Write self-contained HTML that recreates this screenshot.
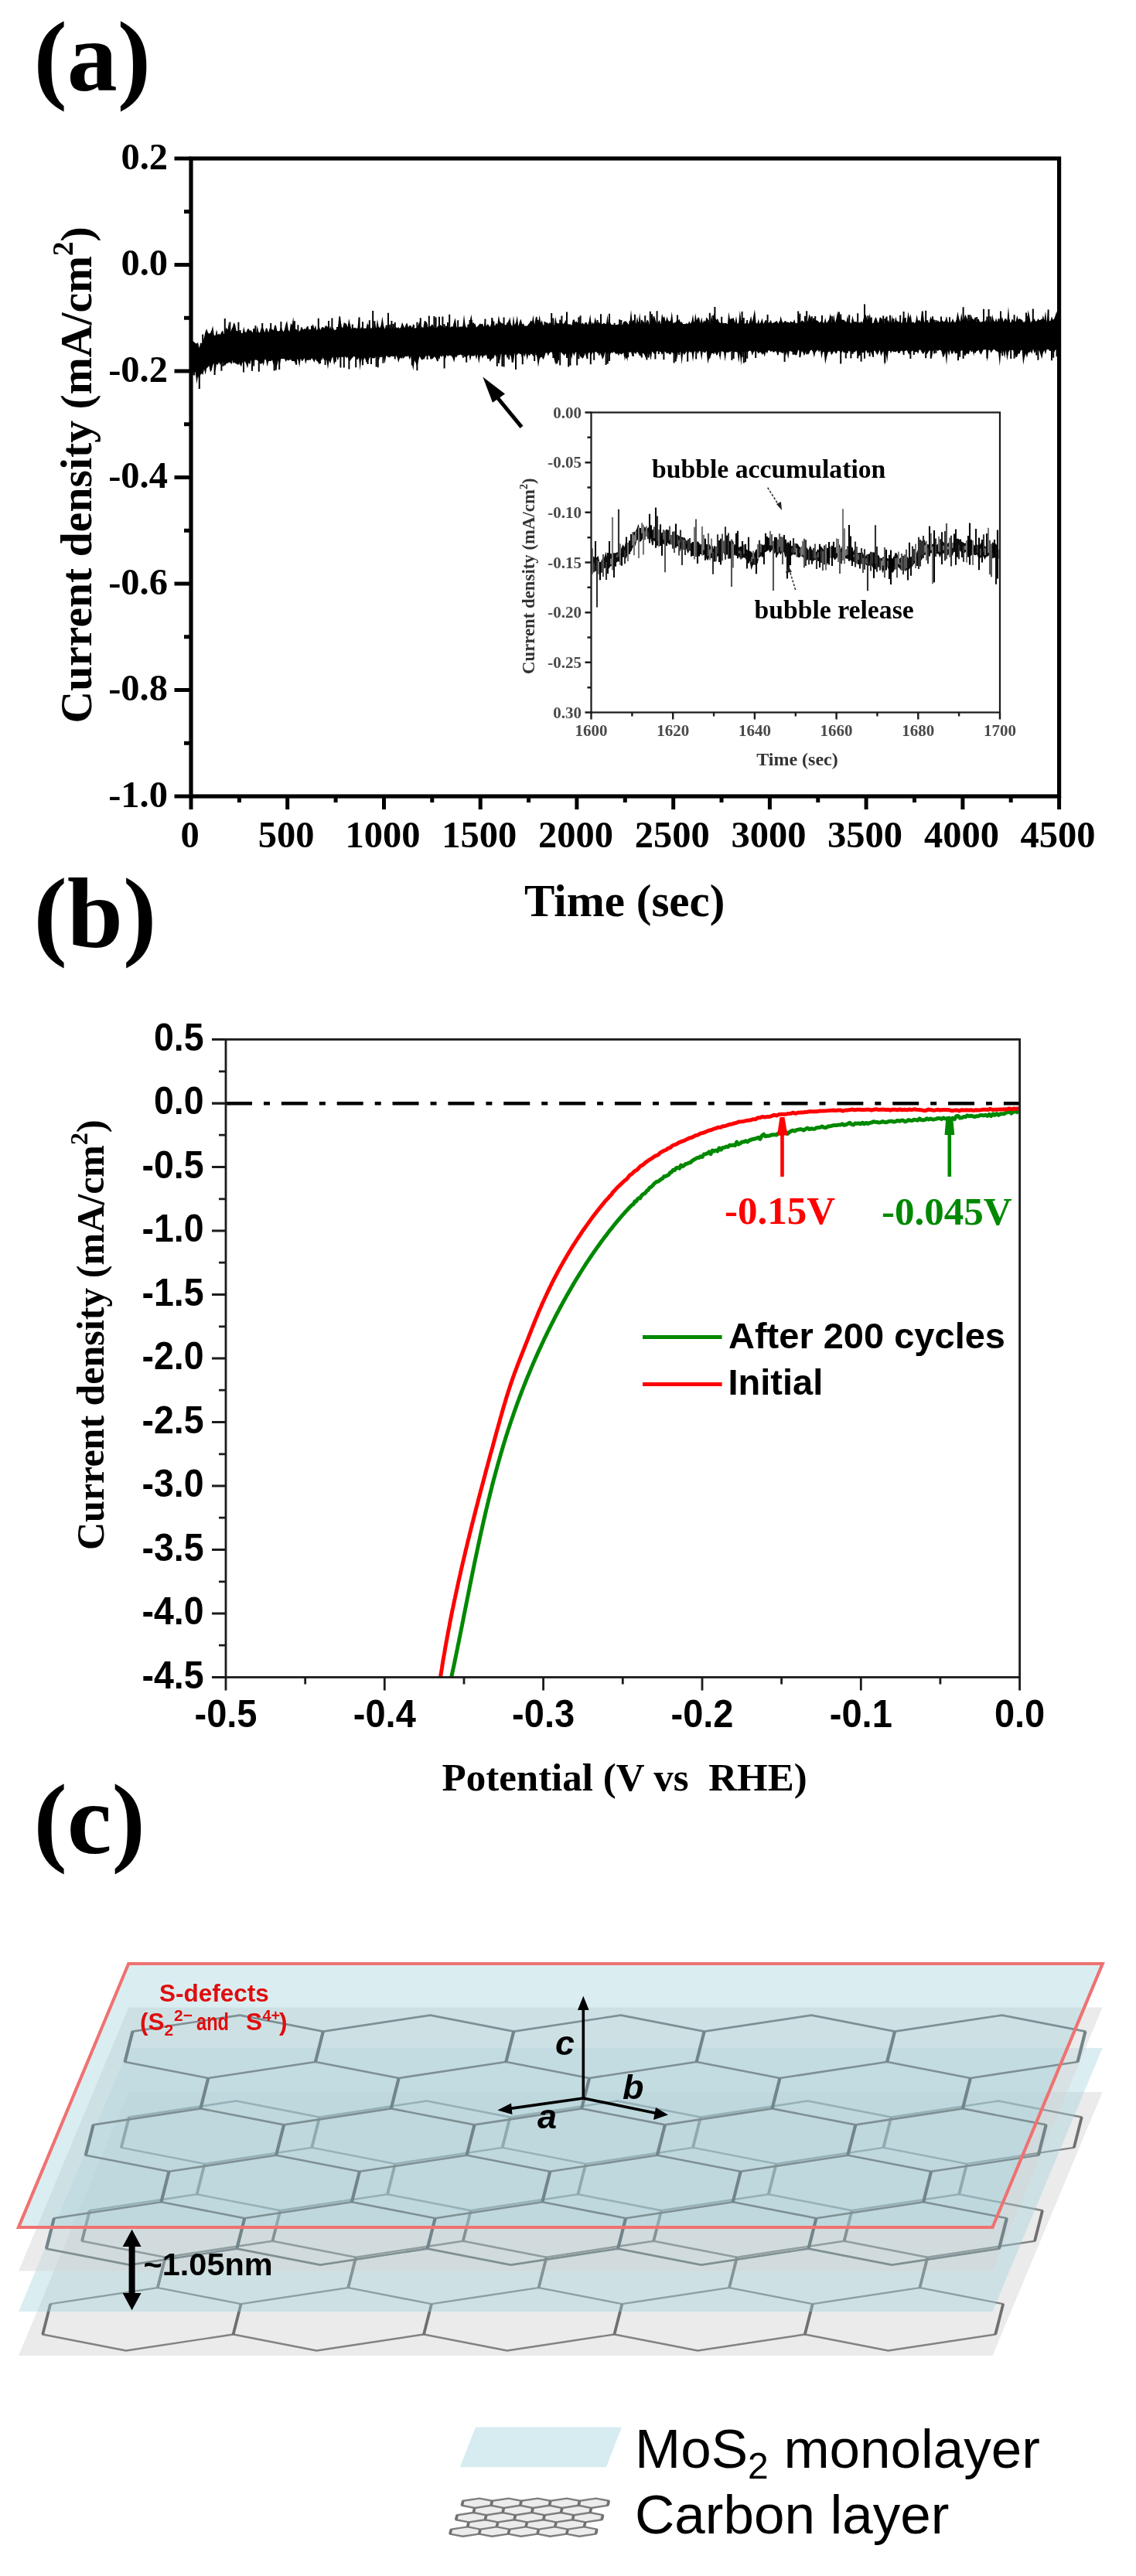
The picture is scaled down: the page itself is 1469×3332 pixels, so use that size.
<!DOCTYPE html>
<html><head><meta charset="utf-8"><title>Figure</title>
<style>html,body{margin:0;padding:0;background:#fff;} svg{display:block;}</style>
</head><body>
<svg width="1469" height="3332" viewBox="0 0 1469 3332"><defs><filter id="soft" filterUnits="userSpaceOnUse" x="0" y="0" width="1469" height="3332"><feGaussianBlur stdDeviation="0.75"/></filter></defs><rect width="1469" height="3332" fill="#fff"/><g filter="url(#soft)"><text x="43.5" y="117" font-family="'Liberation Serif', serif" font-weight="bold" font-size="130">(a)</text>
<path d="M248,439.2 249.6,441.2 251.2,442.5 252.8,444 254.4,444.6 256,442.7 257.6,450.2 259.2,443.2 260.8,444.3 262.4,442 264,436.6 265.6,429 267.2,425.2 268.8,430.1 270.4,431.8 272,430.7 273.6,427.2 275.2,421.6 276.8,433.5 278.4,434.3 280,426.2 281.6,433.2 283.2,431.6 284.8,433.1 286.4,429.3 288,427.4 289.6,432.5 291.2,427.9 292.8,423.6 294.4,426.7 296,416.6 297.6,430.4 299.2,426.5 300.8,422.9 302.4,417.3 304,419.5 305.6,427.8 307.2,428.3 308.8,430.3 310.4,427.3 312,430.9 313.6,430.9 315.2,422.5 316.8,429.5 318.4,429.7 320,425.5 321.6,425.3 323.2,428.1 324.8,427.1 326.4,430.6 328,425 329.6,425.1 331.2,430.4 332.8,421.6 334.4,429.5 336,430.4 337.6,424.7 339.2,423.1 340.8,425.6 342.4,430.3 344,424 345.6,425.3 347.2,430.2 348.8,424 350.4,426.5 352,425.4 353.6,427.5 355.2,421.1 356.8,420.4 358.4,428.1 360,428.6 361.6,427.9 363.2,422.1 364.8,426 366.4,429.4 368,425.9 369.6,418.8 371.2,415.1 372.8,426.5 374.4,429.1 376,417.8 377.6,420.7 379.2,409.7 380.8,426.3 382.4,425.6 384,426.4 385.6,428.7 387.2,428.4 388.8,426.3 390.4,422.9 392,426.6 393.6,424.9 395.2,425.8 396.8,422.5 398.4,421.8 400,427.7 401.6,425.9 403.2,423.3 404.8,419 406.4,425.4 408,420.4 409.6,427.4 411.2,424.4 412.8,422.5 414.4,427.1 416,423.2 417.6,423 419.2,425.2 420.8,421.2 422.4,421.5 424,423.2 425.6,427.3 427.2,421.4 428.8,426.9 430.4,423.3 432,426.6 433.6,426.9 435.2,425.6 436.8,424.9 438.4,409.6 440,409 441.6,422.5 443.2,424.2 444.8,416.9 446.4,418.3 448,418.8 449.6,423.3 451.2,411.9 452.8,419.8 454.4,425.5 456,423.2 457.6,424.6 459.2,423.6 460.8,424.9 462.4,424.2 464,408.9 465.6,426.2 467.2,423.1 468.8,425.5 470.4,424.6 472,424.8 473.6,424.6 475.2,417.1 476.8,425.9 478.4,422.6 480,425.3 481.6,422.8 483.2,425.4 484.8,416.7 486.4,425 488,412.8 489.6,422.4 491.2,424.2 492.8,420 494.4,409.2 496,420.8 497.6,425.8 499.2,420.6 500.8,425.4 502.4,420.2 504,425.5 505.6,425.5 507.2,423 508.8,425.6 510.4,424.6 512,423 513.6,424.4 515.2,422.9 516.8,424.9 518.4,423.2 520,416.8 521.6,420.7 523.2,424.3 524.8,419.7 526.4,417.5 528,423.5 529.6,420.8 531.2,421.1 532.8,424.1 534.4,418.4 536,425.1 537.6,423.9 539.2,424.6 540.8,420.4 542.4,415.4 544,425.2 545.6,422.3 547.2,424.4 548.8,414.7 550.4,415.6 552,416.9 553.6,423.6 555.2,422.3 556.8,422 558.4,419.5 560,420.5 561.6,424.9 563.2,423.1 564.8,424.1 566.4,421.3 568,423.9 569.6,419.7 571.2,422 572.8,423.1 574.4,424.1 576,424.7 577.6,421.2 579.2,423.7 580.8,423.1 582.4,423.6 584,422 585.6,422.7 587.2,415.8 588.8,411.3 590.4,422.9 592,424.2 593.6,423.1 595.2,422.3 596.8,422.8 598.4,421.9 600,406.7 601.6,419.9 603.2,423.8 604.8,423.1 606.4,420.4 608,413.3 609.6,406.8 611.2,421.8 612.8,418.9 614.4,418.6 616,423.4 617.6,422.1 619.2,420.3 620.8,418.2 622.4,419.4 624,418.6 625.6,422.7 627.2,415.1 628.8,422.3 630.4,419 632,420.6 633.6,423.1 635.2,418.5 636.8,410.7 638.4,418.2 640,421.9 641.6,417.6 643.2,419.9 644.8,408 646.4,415.7 648,417.5 649.6,418.6 651.2,418.1 652.8,420 654.4,420.6 656,416.6 657.6,418.1 659.2,409.7 660.8,419.3 662.4,422.3 664,408.3 665.6,420.5 667.2,416.8 668.8,408.3 670.4,422.3 672,415.9 673.6,412.6 675.2,419.6 676.8,418.2 678.4,421.6 680,421.6 681.6,421.7 683.2,419.4 684.8,417.8 686.4,414.4 688,415.9 689.6,407.4 691.2,419.9 692.8,410.2 694.4,409.6 696,418.6 697.6,407.3 699.2,417.3 700.8,414.3 702.4,420.5 704,420.2 705.6,416.8 707.2,417.4 708.8,417.8 710.4,420.3 712,418.7 713.6,416.7 715.2,419.5 716.8,420.7 718.4,409.5 720,419 721.6,418 723.2,418.6 724.8,417.3 726.4,416.5 728,419 729.6,418 731.2,414.8 732.8,413.1 734.4,419.2 736,419.5 737.6,419.2 739.2,420.9 740.8,414 742.4,413.1 744,417.1 745.6,415.4 747.2,417.8 748.8,416.3 750.4,420.1 752,418.6 753.6,417.6 755.2,419.7 756.8,417 758.4,416.7 760,420.2 761.6,416 763.2,406.6 764.8,419.9 766.4,416.8 768,419.2 769.6,410.3 771.2,416.6 772.8,418.9 774.4,416.2 776,418.6 777.6,418.6 779.2,419.2 780.8,417.6 782.4,418.7 784,418.8 785.6,407.1 787.2,420.5 788.8,416.8 790.4,419.8 792,420.1 793.6,420 795.2,420.5 796.8,419.9 798.4,419.9 800,419.3 801.6,419.1 803.2,420.2 804.8,420.2 806.4,416.2 808,415.4 809.6,415.4 811.2,417.4 812.8,419.7 814.4,417.1 816,400.7 817.6,416.1 819.2,413.5 820.8,415.8 822.4,418.4 824,409.4 825.6,418.5 827.2,404.4 828.8,419 830.4,415.4 832,415.5 833.6,418.4 835.2,417.9 836.8,413.4 838.4,415.1 840,419.9 841.6,414.9 843.2,418.1 844.8,408.4 846.4,409.6 848,415.4 849.6,419.6 851.2,418.3 852.8,413.6 854.4,419.5 856,405.7 857.6,410.9 859.2,409.3 860.8,416.9 862.4,409.3 864,414.3 865.6,416.1 867.2,414.6 868.8,403.1 870.4,418.2 872,417.2 873.6,416.9 875.2,414.1 876.8,415.1 878.4,412.5 880,416.9 881.6,416.3 883.2,419 884.8,419.2 886.4,418.9 888,418.1 889.6,419.2 891.2,415.2 892.8,418.8 894.4,416 896,406.5 897.6,419.1 899.2,405 900.8,414.5 902.4,411 904,410.6 905.6,418.5 907.2,410.2 908.8,418 910.4,414.3 912,416.2 913.6,410.2 915.2,412.5 916.8,418.1 918.4,419.2 920,406.6 921.6,416.3 923.2,404.6 924.8,410.6 926.4,413.9 928,411.9 929.6,416 931.2,417.9 932.8,417.3 934.4,417.5 936,418.2 937.6,417.8 939.2,418.1 940.8,419.3 942.4,403.4 944,413.3 945.6,412.1 947.2,411.8 948.8,411.2 950.4,417.7 952,408.7 953.6,418.9 955.2,417.3 956.8,401.8 958.4,414.9 960,411.2 961.6,417.4 963.2,418.9 964.8,417.2 966.4,416.9 968,419.2 969.6,414.4 971.2,408.8 972.8,416.8 974.4,408.3 976,400.3 977.6,417.2 979.2,418.8 980.8,412.5 982.4,419.1 984,415.9 985.6,411.5 987.2,418.9 988.8,416.1 990.4,414.5 992,419 993.6,417.6 995.2,416.9 996.8,413.8 998.4,418.2 1000,417.6 1001.6,416.8 1003.2,415.8 1004.8,415.1 1006.4,418.5 1008,417.4 1009.6,408.8 1011.2,414.9 1012.8,417.8 1014.4,415.5 1016,415 1017.6,417 1019.2,416.3 1020.8,418.1 1022.4,415.2 1024,416.7 1025.6,416.8 1027.2,413.1 1028.8,418.4 1030.4,417.5 1032,418.6 1033.6,408.6 1035.2,417.1 1036.8,414.6 1038.4,414.9 1040,417 1041.6,417.4 1043.2,417.3 1044.8,414.5 1046.4,406.4 1048,409.8 1049.6,413.9 1051.2,415.9 1052.8,413 1054.4,414.6 1056,414.2 1057.6,415 1059.2,417 1060.8,416.8 1062.4,413.5 1064,416.8 1065.6,417.7 1067.2,411 1068.8,417.9 1070.4,415.7 1072,413.6 1073.6,405.2 1075.2,416.9 1076.8,416.3 1078.4,406.4 1080,417.8 1081.6,411.6 1083.2,401.9 1084.8,414.4 1086.4,409.7 1088,412.6 1089.6,414 1091.2,413.6 1092.8,415.3 1094.4,416.8 1096,407.9 1097.6,417.3 1099.2,416.7 1100.8,418.4 1102.4,408.3 1104,415.5 1105.6,416.5 1107.2,415.8 1108.8,417.8 1110.4,417.9 1112,418.3 1113.6,415 1115.2,417.9 1116.8,411.2 1118.4,406.2 1120,407.9 1121.6,413.9 1123.2,412.6 1124.8,405.4 1126.4,415.9 1128,418.3 1129.6,417.5 1131.2,412.5 1132.8,409.9 1134.4,415.1 1136,418.2 1137.6,410.7 1139.2,410.7 1140.8,412.9 1142.4,418.3 1144,418.2 1145.6,410.1 1147.2,415.6 1148.8,413.9 1150.4,418.2 1152,417.9 1153.6,407.7 1155.2,417.2 1156.8,416.8 1158.4,409.4 1160,416.5 1161.6,416.2 1163.2,415.5 1164.8,417.2 1166.4,417.8 1168,409.6 1169.6,412.5 1171.2,418.1 1172.8,416.4 1174.4,403.1 1176,411.6 1177.6,406.3 1179.2,417.4 1180.8,415.9 1182.4,417.9 1184,416.4 1185.6,407 1187.2,415.4 1188.8,413.4 1190.4,416.6 1192,403.7 1193.6,403.3 1195.2,417.1 1196.8,413.9 1198.4,414.2 1200,416.8 1201.6,417.4 1203.2,409.4 1204.8,412.6 1206.4,415.4 1208,412.2 1209.6,417.2 1211.2,416.3 1212.8,414.3 1214.4,416.3 1216,416 1217.6,413.8 1219.2,415.2 1220.8,416.5 1222.4,414.6 1224,408.7 1225.6,415.9 1227.2,417.5 1228.8,417.3 1230.4,415.9 1232,411.9 1233.6,416.1 1235.2,417.3 1236.8,413.2 1238.4,403 1240,410.9 1241.6,416.2 1243.2,405.1 1244.8,414.6 1246.4,412.7 1248,406.8 1249.6,409.6 1251.2,415.2 1252.8,413.5 1254.4,416.5 1256,407.8 1257.6,412.5 1259.2,412.4 1260.8,416.4 1262.4,417.2 1264,413.2 1265.6,412.6 1267.2,416.7 1268.8,416.2 1270.4,416.2 1272,411.9 1273.6,416.4 1275.2,413 1276.8,417.2 1278.4,413.4 1280,416.8 1281.6,416.8 1283.2,407.1 1284.8,413.8 1286.4,416.5 1288,411.3 1289.6,416.7 1291.2,411.1 1292.8,416.4 1294.4,414.9 1296,409.5 1297.6,416.6 1299.2,412.4 1300.8,412 1302.4,414.9 1304,396.4 1305.6,416.5 1307.2,417.2 1308.8,412.2 1310.4,414.5 1312,415.7 1313.6,415.8 1315.2,407.9 1316.8,413.4 1318.4,412.1 1320,412.9 1321.6,413.7 1323.2,416.6 1324.8,416.7 1326.4,413.2 1328,415.7 1329.6,401.1 1331.2,408.8 1332.8,417.2 1334.4,415.3 1336,414.4 1337.6,411.9 1339.2,415.7 1340.8,415.3 1342.4,412.1 1344,414.3 1345.6,413.8 1347.2,415.2 1348.8,407.6 1350.4,414 1352,402.5 1353.6,416.7 1355.2,401.5 1356.8,415.6 1358.4,414.8 1360,409.2 1361.6,413.8 1363.2,412.2 1364.8,407.8 1366.4,402.6 1368,412.2 1368,452.4 1366.4,452.3 1364.8,452.5 1363.2,455.4 1361.6,452.9 1360,455.8 1358.4,452.2 1356.8,452.5 1355.2,451.9 1353.6,452.1 1352,458.6 1350.4,453.1 1348.8,456.4 1347.2,464.5 1345.6,458.4 1344,453.7 1342.4,452.7 1340.8,452.7 1339.2,454.1 1337.6,457.3 1336,451.3 1334.4,457.7 1332.8,454.3 1331.2,455.9 1329.6,455.9 1328,462.8 1326.4,457.2 1324.8,462.6 1323.2,472.1 1321.6,452.7 1320,453 1318.4,458 1316.8,457 1315.2,461.5 1313.6,462.2 1312,457.9 1310.4,453.5 1308.8,452.6 1307.2,453.1 1305.6,452.9 1304,456 1302.4,466.4 1300.8,453 1299.2,462.9 1297.6,454.9 1296,453.3 1294.4,454 1292.8,473.8 1291.2,456.3 1289.6,454.2 1288,454.5 1286.4,452.6 1284.8,451.8 1283.2,454 1281.6,456.5 1280,452.8 1278.4,452.8 1276.8,467.9 1275.2,451.9 1273.6,452.4 1272,451.9 1270.4,454.7 1268.8,458.6 1267.2,457.2 1265.6,452.7 1264,453.7 1262.4,454.8 1260.8,451.7 1259.2,460.4 1257.6,452.7 1256,455 1254.4,452.7 1252.8,458.2 1251.2,457.2 1249.6,457.6 1248,460.8 1246.4,458.2 1244.8,452.8 1243.2,452.3 1241.6,455.8 1240,457.7 1238.4,453.2 1236.8,456.5 1235.2,457.8 1233.6,453.6 1232,457.4 1230.4,457.8 1228.8,452.3 1227.2,460.4 1225.6,453.4 1224,472.2 1222.4,455.7 1220.8,461.1 1219.2,462 1217.6,454.7 1216,452.5 1214.4,453.1 1212.8,453.9 1211.2,452.5 1209.6,452.6 1208,452.7 1206.4,454.1 1204.8,464.1 1203.2,453.6 1201.6,453.6 1200,456.2 1198.4,458.5 1196.8,452.4 1195.2,456.1 1193.6,458 1192,455.7 1190.4,452.8 1188.8,452.2 1187.2,457.7 1185.6,454.7 1184,455.5 1182.4,455.6 1180.8,453.2 1179.2,454.6 1177.6,454.3 1176,458.9 1174.4,456.8 1172.8,452.9 1171.2,453.8 1169.6,454 1168,456.3 1166.4,453.5 1164.8,453.9 1163.2,456.9 1161.6,456.8 1160,453.7 1158.4,455.4 1156.8,454.8 1155.2,455.5 1153.6,453.1 1152,457.3 1150.4,453.4 1148.8,454.3 1147.2,468.2 1145.6,456.5 1144,473.3 1142.4,454 1140.8,456.9 1139.2,460.8 1137.6,452.4 1136,456.6 1134.4,459.2 1132.8,456 1131.2,453.5 1129.6,454.2 1128,460.1 1126.4,455.7 1124.8,454.8 1123.2,456.1 1121.6,456.9 1120,452.4 1118.4,457.7 1116.8,456.1 1115.2,456.3 1113.6,455.8 1112,457.9 1110.4,461 1108.8,456.8 1107.2,453.2 1105.6,455.6 1104,455.6 1102.4,457.7 1100.8,453.6 1099.2,454.9 1097.6,453.4 1096,457.5 1094.4,455.9 1092.8,455.8 1091.2,456.6 1089.6,453.7 1088,456.9 1086.4,455.1 1084.8,453.7 1083.2,453.8 1081.6,457.7 1080,456.3 1078.4,454 1076.8,456.9 1075.2,459.2 1073.6,455.3 1072,452.7 1070.4,457.1 1068.8,463 1067.2,470.9 1065.6,455 1064,455.4 1062.4,463.7 1060.8,452.8 1059.2,455.8 1057.6,452.8 1056,453.7 1054.4,455.7 1052.8,462.4 1051.2,455.2 1049.6,452.8 1048,452.9 1046.4,456.7 1044.8,459.1 1043.2,453.6 1041.6,455.9 1040,460.4 1038.4,456 1036.8,454.1 1035.2,460.8 1033.6,453 1032,453.1 1030.4,459 1028.8,459.4 1027.2,458.1 1025.6,455.9 1024,454.7 1022.4,454.4 1020.8,454.1 1019.2,464.5 1017.6,455.2 1016,460.8 1014.4,453.6 1012.8,457.2 1011.2,456.3 1009.6,455.9 1008,454.5 1006.4,457.4 1004.8,456.7 1003.2,454 1001.6,455.1 1000,455.9 998.4,453.7 996.8,455.2 995.2,453.3 993.6,453.3 992,457.2 990.4,454.7 988.8,461.4 987.2,456.7 985.6,458.9 984,455.8 982.4,455.5 980.8,457.5 979.2,455.1 977.6,453.7 976,454.1 974.4,455.7 972.8,460 971.2,454.5 969.6,453.4 968,454.6 966.4,455.9 964.8,453.4 963.2,453.5 961.6,456.6 960,454.5 958.4,473.1 956.8,456.8 955.2,469.5 953.6,456 952,454.9 950.4,455.3 948.8,456.8 947.2,453.4 945.6,454.1 944,455.6 942.4,453.5 940.8,456.1 939.2,455.8 937.6,467.5 936,455.5 934.4,454.7 932.8,454.2 931.2,466.2 929.6,454.5 928,458.7 926.4,459.7 924.8,455.6 923.2,458.2 921.6,456.7 920,457.2 918.4,463 916.8,464.6 915.2,470.4 913.6,453.7 912,456.3 910.4,455.9 908.8,454.8 907.2,466.1 905.6,454.3 904,454.3 902.4,458 900.8,454.1 899.2,453.8 897.6,455.9 896,467.8 894.4,455.3 892.8,456.1 891.2,454.3 889.6,459 888,454.2 886.4,456.7 884.8,459.2 883.2,456.3 881.6,471.4 880,455.2 878.4,455.8 876.8,456.3 875.2,464.9 873.6,456.4 872,458.6 870.4,457 868.8,455.2 867.2,458.5 865.6,458.3 864,456.2 862.4,457.5 860.8,455.6 859.2,454.5 857.6,456.2 856,459.1 854.4,455.2 852.8,454.7 851.2,454.4 849.6,454 848,457.5 846.4,458.3 844.8,456.2 843.2,454.6 841.6,466.2 840,457.5 838.4,459.6 836.8,455.7 835.2,463.8 833.6,459.2 832,457.1 830.4,456.8 828.8,460.5 827.2,459.5 825.6,457.3 824,454.7 822.4,457.9 820.8,456.7 819.2,455.4 817.6,461.1 816,455.2 814.4,455.9 812.8,455.1 811.2,467.7 809.6,455.4 808,466.9 806.4,456 804.8,457.4 803.2,458.8 801.6,456.7 800,460.3 798.4,456.9 796.8,458.2 795.2,456.4 793.6,454.6 792,456.7 790.4,455.7 788.8,459.1 787.2,458 785.6,455.8 784,457.2 782.4,455.3 780.8,461.4 779.2,464.9 777.6,460 776,456.5 774.4,456.6 772.8,457.3 771.2,455.1 769.6,455.2 768,458.5 766.4,455.4 764.8,459.5 763.2,456.6 761.6,456.1 760,458.8 758.4,463.1 756.8,457 755.2,461.1 753.6,464.1 752,462.4 750.4,461.3 748.8,457.2 747.2,457.5 745.6,455.1 744,455.9 742.4,460.5 740.8,455.8 739.2,464.8 737.6,458.1 736,457.6 734.4,461.1 732.8,457.1 731.2,457.8 729.6,460.1 728,458.2 726.4,456.4 724.8,455.3 723.2,455.7 721.6,470.5 720,461.9 718.4,471.7 716.8,464.9 715.2,459.6 713.6,455.5 712,455.4 710.4,456.7 708.8,460.5 707.2,456.2 705.6,456.5 704,461.7 702.4,465.4 700.8,457.9 699.2,461.5 697.6,464.8 696,475 694.4,461.8 692.8,456.5 691.2,456.1 689.6,461.2 688,458.3 686.4,457.4 684.8,460.5 683.2,458.4 681.6,465.7 680,456.6 678.4,461.9 676.8,457.6 675.2,463.5 673.6,458.1 672,457.8 670.4,456.8 668.8,459.6 667.2,456.7 665.6,457.3 664,467.7 662.4,469 660.8,461.3 659.2,458.5 657.6,460 656,463.9 654.4,458.3 652.8,459.2 651.2,462.7 649.6,459 648,457.3 646.4,465.9 644.8,463.1 643.2,459 641.6,461.7 640,458.6 638.4,463.6 636.8,463.5 635.2,465.4 633.6,468 632,461.2 630.4,464.7 628.8,458.3 627.2,460.1 625.6,460.1 624,463.7 622.4,459.4 620.8,461.1 619.2,470.6 617.6,458.3 616,465 614.4,458.9 612.8,460.8 611.2,460.6 609.6,460 608,466.7 606.4,458.7 604.8,460.6 603.2,461.2 601.6,461.6 600,459.2 598.4,459.1 596.8,459.4 595.2,458.6 593.6,459.5 592,459.2 590.4,462.3 588.8,461.3 587.2,468.8 585.6,463.5 584,460.5 582.4,460.1 580.8,459.5 579.2,461.3 577.6,459.1 576,464.2 574.4,462.6 572.8,459.5 571.2,462.1 569.6,459.8 568,465.4 566.4,461.7 564.8,466.2 563.2,462.6 561.6,461.3 560,463.7 558.4,464.3 556.8,465 555.2,460.1 553.6,460 552,460.2 550.4,460.6 548.8,464.5 547.2,464.6 545.6,465.8 544,463.5 542.4,460.8 540.8,468.5 539.2,474.3 537.6,469.3 536,466 534.4,478.9 532.8,471.1 531.2,460.8 529.6,465.3 528,460 526.4,461.6 524.8,460.7 523.2,461.8 521.6,463.9 520,460.6 518.4,462.8 516.8,463.7 515.2,469.1 513.6,462.3 512,459.8 510.4,462.1 508.8,460.8 507.2,461.2 505.6,460.5 504,462.8 502.4,461.3 500.8,460.2 499.2,460.7 497.6,470.3 496,462.7 494.4,461.3 492.8,462.2 491.2,461.4 489.6,467 488,460.9 486.4,460.2 484.8,463.3 483.2,463.2 481.6,463.4 480,461.3 478.4,462.3 476.8,465.3 475.2,468.6 473.6,468.7 472,462.5 470.4,465.1 468.8,471.2 467.2,463.5 465.6,479.3 464,462.3 462.4,465.6 460.8,464 459.2,461.6 457.6,461 456,462.4 454.4,464.2 452.8,466.7 451.2,467.5 449.6,461.5 448,463.3 446.4,461.1 444.8,462.2 443.2,461.7 441.6,461.7 440,462.2 438.4,461.9 436.8,466.6 435.2,461.2 433.6,467.7 432,472.1 430.4,461.4 428.8,464 427.2,470.6 425.6,466.1 424,477.7 422.4,466.2 420.8,464.3 419.2,466.3 417.6,462.4 416,466.4 414.4,462.7 412.8,472.1 411.2,467.2 409.6,467.3 408,464.2 406.4,468.8 404.8,465.7 403.2,463.1 401.6,465.9 400,465.3 398.4,466.3 396.8,465.3 395.2,470.9 393.6,463 392,466.1 390.4,467.3 388.8,463.6 387.2,474.8 385.6,466.2 384,463.8 382.4,472.1 380.8,467.3 379.2,467.1 377.6,467.3 376,464.9 374.4,465.5 372.8,466.4 371.2,465.3 369.6,468 368,463.9 366.4,464.3 364.8,464 363.2,464.2 361.6,473.4 360,465.7 358.4,472.2 356.8,477.6 355.2,467.5 353.6,471.8 352,465.5 350.4,467.2 348.8,466.8 347.2,467.5 345.6,474.5 344,465.5 342.4,464.8 340.8,473 339.2,468.9 337.6,471.1 336,470 334.4,467.2 332.8,466.3 331.2,465.4 329.6,465.6 328,469.1 326.4,467.4 324.8,465.8 323.2,471.5 321.6,469 320,476.6 318.4,470.7 316.8,467.5 315.2,468.5 313.6,468.5 312,474.6 310.4,471.4 308.8,468.2 307.2,471.7 305.6,470.5 304,469.8 302.4,468 300.8,466.1 299.2,471.5 297.6,468.7 296,468.7 294.4,469.7 292.8,470.2 291.2,472 289.6,468.3 288,469.1 286.4,467.6 284.8,472.2 283.2,468.4 281.6,472 280,470.7 278.4,480.8 276.8,469.4 275.2,472.6 273.6,478.9 272,481.6 270.4,473.1 268.8,475 267.2,476.4 265.6,484.7 264,477.2 262.4,485 260.8,482.9 259.2,485 257.6,491.3 256,486.5 254.4,496.7 252.8,482.1 251.2,478.8 249.6,485.5 248,485.6Z" fill="#000"/>
<path d="M249.0,470.4V479.4M251.2,473.0V485.6M257.8,481.7V503.1M262.2,449.6V432.4M268.8,466.4V472.5M277.6,463.4V485.1M284.2,462.7V469.1M286.4,462.5V479.8M288.6,462.2V473.8M290.8,438.0V412.0M290.8,462.0V472.4M297.4,437.3V416.6M301.8,436.9V428.5M301.8,460.9V469.4M308.4,436.7V416.7M308.4,460.7V471.6M310.6,436.6V426.9M315.0,460.4V481.4M326.0,460.0V479.8M328.2,436.0V424.9M328.2,460.0V473.4M330.4,435.9V421.3M334.8,459.7V480.7M339.2,435.6V418.0M350.2,435.2V417.9M354.6,459.0V479.6M356.8,458.9V478.8M361.2,458.8V478.1M363.4,434.7V415.9M370.0,458.4V464.8M381.0,434.0V415.2M383.2,457.9V471.8M385.4,433.9V420.3M389.8,433.7V423.5M400.8,433.3V426.0M403.0,433.2V421.6M411.8,432.9V411.7M411.8,456.9V468.7M414.0,456.8V470.3M418.4,432.7V423.7M420.6,456.6V472.1M425.0,432.4V414.9M427.2,432.3V424.9M429.4,432.3V411.5M433.8,456.1V467.9M436.0,432.0V423.0M440.4,431.9V419.4M440.4,455.9V475.4M444.8,455.7V475.6M451.4,431.5V418.7M451.4,455.5V477.5M453.6,455.5V463.6M455.8,431.4V419.4M460.2,455.4V475.2M464.6,431.3V410.6M469.0,431.2V416.3M469.0,455.2V472.3M473.4,455.2V464.6M475.6,431.2V420.1M475.6,455.2V471.0M477.8,431.1V414.2M480.0,455.1V471.1M482.2,431.1V402.0M484.4,431.0V415.3M486.6,455.0V474.6M488.8,455.0V475.3M495.4,454.9V469.8M499.8,430.8V420.6M502.0,430.8V404.7M502.0,454.8V461.9M504.2,430.8V419.8M506.4,430.7V414.9M508.6,430.7V418.9M510.8,430.7V417.0M510.8,454.7V464.6M519.6,454.6V463.6M524.0,430.5V424.5M532.8,454.4V472.5M535.0,430.4V420.2M535.0,454.4V465.9M539.4,430.3V416.8M539.4,454.3V479.2M543.8,430.2V411.3M552.6,454.1V465.0M554.8,430.1V408.4M557.0,454.1V460.4M561.4,430.0V409.0M563.6,430.0V410.4M565.8,454.0V467.3M568.0,429.9V409.7M572.4,429.9V409.6M574.6,429.8V419.3M574.6,453.8V476.6M576.8,429.8V421.7M579.0,429.8V417.1M581.2,429.8V406.8M587.8,429.7V418.1M592.2,429.6V414.2M598.8,429.5V422.0M598.8,453.5V462.8M601.0,453.5V461.4M603.2,453.4V468.8M605.4,429.3V419.5M607.6,429.3V414.1M609.8,429.2V414.0M612.0,429.1V417.6M627.4,428.7V412.4M627.4,452.7V459.5M631.8,452.5V464.1M636.2,428.4V411.1M636.2,452.4V461.1M638.4,428.3V415.7M642.8,452.2V473.8M645.0,452.1V469.7M649.4,428.0V419.9M649.4,452.0V473.9M651.6,428.0V410.6M651.6,452.0V474.4M658.2,427.8V414.8M658.2,451.8V465.1M662.6,451.6V468.7M667.0,451.5V478.0M675.8,451.2V471.3M684.6,427.0V420.2M691.2,450.8V467.1M693.4,450.7V459.2M695.6,426.6V413.9M697.8,450.6V462.5M700.0,450.5V462.1M702.2,450.5V463.5M704.4,426.5V416.1M711.0,426.4V417.5M713.2,426.4V405.0M715.4,426.3V411.4M715.4,450.3V463.0M719.8,426.3V417.7M719.8,450.3V470.6M722.0,450.3V465.9M724.2,426.3V413.5M724.2,450.3V472.5M726.4,426.2V408.5M730.8,426.2V419.1M733.0,426.2V403.4M733.0,450.2V463.1M735.2,450.1V474.6M737.4,450.1V472.7M746.2,450.0V472.4M748.4,426.0V410.3M748.4,450.0V464.2M750.6,426.0V408.3M759.4,449.9V464.2M763.8,425.9V416.5M763.8,449.9V471.3M768.2,449.8V465.8M772.6,425.8V413.9M774.8,449.8V459.5M777.0,425.7V406.2M783.6,425.7V419.4M783.6,449.7V471.9M785.8,449.6V470.5M788.0,425.6V405.8M788.0,449.6V467.1M792.4,449.6V456.1M794.6,425.6V417.7M801.2,425.5V413.2M803.4,425.5V414.0M807.8,449.4V460.7M810.0,449.4V463.6M812.2,449.4V462.0M814.4,425.4V415.2M818.8,449.3V461.1M821.0,425.3V406.8M825.4,425.2V416.6M827.6,449.2V460.1M829.8,425.2V413.8M829.8,449.2V462.5M834.2,425.2V408.3M836.4,449.1V465.6M838.6,449.1V462.4M840.8,425.1V402.7M843.0,425.1V406.3M847.4,449.0V464.4M849.6,425.0V402.2M851.8,425.0V415.7M851.8,449.0V458.0M858.4,448.9V465.3M860.6,424.9V415.6M867.2,424.9V415.2M871.6,448.9V469.5M873.8,424.8V418.3M873.8,448.8V467.6M876.0,424.8V407.5M878.2,448.8V458.9M889.2,448.7V467.8M898.0,424.7V416.4M900.2,424.7V414.7M900.2,448.7V464.6M902.4,424.7V418.4M906.8,424.6V415.3M906.8,448.6V456.9M915.6,424.6V413.8M917.8,424.5V404.8M917.8,448.5V459.3M922.2,424.5V407.9M924.4,424.5V397.1M928.8,424.5V416.9M931.0,448.5V460.8M933.2,424.4V409.7M942.0,448.4V455.8M946.4,448.4V465.9M948.6,424.3V415.6M948.6,448.3V463.9M959.6,424.3V403.0M959.6,448.3V461.7M961.8,424.3V411.0M961.8,448.3V469.4M964.0,448.2V468.3M966.2,424.2V414.0M966.2,448.2V463.7M975.0,424.2V410.3M977.2,448.2V462.9M990.4,424.1V414.2M992.6,424.0V407.0M1005.8,448.0V459.3M1008.0,424.0V415.9M1014.6,447.9V467.9M1025.6,447.9V458.8M1027.8,447.9V458.4M1032.2,423.8V402.4M1034.4,423.8V405.7M1034.4,447.8V462.3M1041.0,423.8V408.8M1043.2,423.8V402.2M1043.2,447.8V458.2M1049.8,423.8V409.3M1052.0,423.7V411.5M1052.0,447.7V453.9M1054.2,423.7V409.0M1063.0,423.7V407.9M1071.8,447.6V455.0M1074.0,423.6V408.6M1076.2,423.6V409.0M1078.4,423.6V415.3M1085.0,423.6V403.4M1087.2,423.6V406.6M1087.2,447.6V470.6M1091.6,423.5V416.9M1093.8,447.5V463.6M1098.2,423.5V407.2M1100.4,447.5V463.5M1102.6,423.5V413.4M1102.6,447.5V457.8M1109.2,423.5V405.3M1109.2,447.5V463.4M1111.4,423.4V416.9M1111.4,447.4V459.8M1113.6,447.4V467.7M1118.0,423.4V393.6M1118.0,447.4V463.8M1122.4,423.4V408.2M1124.6,447.4V460.9M1126.8,423.4V410.5M1129.0,447.4V461.7M1142.2,423.3V408.4M1144.4,423.3V411.9M1144.4,447.3V469.5M1146.6,423.3V409.6M1146.6,447.3V458.7M1151.0,423.2V407.7M1153.2,447.2V454.2M1155.4,423.2V412.0M1159.8,423.2V415.1M1164.2,423.2V407.8M1168.6,423.2V403.1M1168.6,447.2V458.9M1170.8,423.1V411.0M1177.4,447.1V463.9M1181.8,447.1V459.1M1186.2,423.1V413.9M1192.8,423.0V402.4M1197.2,423.0V401.7M1197.2,447.0V463.2M1199.4,423.0V414.2M1203.8,447.0V463.7M1206.0,423.0V409.3M1208.2,447.0V457.4M1210.4,422.9V414.0M1210.4,446.9V456.7M1217.0,422.9V409.6M1228.0,422.8V410.2M1236.8,446.8V457.0M1239.0,446.8V466.2M1241.2,446.8V461.8M1243.4,446.7V453.4M1245.6,422.7V397.3M1245.6,446.7V463.9M1250.0,422.7V412.0M1252.2,422.7V407.2M1254.4,422.7V407.2M1256.6,446.7V454.9M1261.0,422.6V410.7M1261.0,446.6V456.5M1263.2,422.6V409.9M1272.0,422.6V399.8M1276.4,422.5V409.6M1276.4,446.5V463.6M1278.6,422.5V400.1M1280.8,422.5V409.2M1283.0,422.5V413.9M1291.8,422.5V412.4M1294.0,422.4V402.5M1294.0,446.4V456.6M1296.2,446.4V460.3M1302.8,446.4V458.7M1305.0,422.4V413.5M1307.2,446.4V464.0M1311.6,422.3V407.2M1311.6,446.3V463.7M1318.2,446.3V453.6M1320.4,422.3V415.6M1327.0,422.3V404.4M1327.0,446.3V453.5M1329.2,422.2V408.7M1335.8,422.2V399.5M1340.2,446.2V459.5M1342.4,446.2V465.8M1346.8,422.1V412.8M1346.8,446.1V459.5M1355.6,422.1V400.4M1357.8,446.1V453.9M1360.0,446.1V466.3M1362.2,446.0V462.7M1366.6,446.0V461.2" stroke="#000" stroke-width="2" fill="none"/>
<rect x="247" y="205" width="1122.6" height="825" fill="none" stroke="#000" stroke-width="5.2"/>
<path d="M225.5,205.0H247 M238,273.8H247 M225.5,342.5H247 M238,411.2H247 M225.5,480.0H247 M238,548.8H247 M225.5,617.5H247 M238,686.2H247 M225.5,755.0H247 M238,823.8H247 M225.5,892.5H247 M238,961.2H247 M225.5,1030.0H247 M247.0,1030V1047 M309.4,1030V1038 M371.7,1030V1047 M434.1,1030V1038 M496.5,1030V1047 M558.8,1030V1038 M621.2,1030V1047 M683.6,1030V1038 M745.9,1030V1047 M808.3,1030V1038 M870.7,1030V1047 M933.0,1030V1038 M995.4,1030V1047 M1057.8,1030V1038 M1120.1,1030V1047 M1182.5,1030V1038 M1244.9,1030V1047 M1307.2,1030V1038 M1369.6,1030V1047" stroke="#000" stroke-width="5" fill="none"/>
<text x="217" y="218.5" text-anchor="end" font-family="'Liberation Serif', serif" font-weight="bold" font-size="48.5">0.2</text>
<text x="217" y="356.0" text-anchor="end" font-family="'Liberation Serif', serif" font-weight="bold" font-size="48.5">0.0</text>
<text x="217" y="493.5" text-anchor="end" font-family="'Liberation Serif', serif" font-weight="bold" font-size="48.5">-0.2</text>
<text x="217" y="631.0" text-anchor="end" font-family="'Liberation Serif', serif" font-weight="bold" font-size="48.5">-0.4</text>
<text x="217" y="768.5" text-anchor="end" font-family="'Liberation Serif', serif" font-weight="bold" font-size="48.5">-0.6</text>
<text x="217" y="906.0" text-anchor="end" font-family="'Liberation Serif', serif" font-weight="bold" font-size="48.5">-0.8</text>
<text x="217" y="1043.5" text-anchor="end" font-family="'Liberation Serif', serif" font-weight="bold" font-size="48.5">-1.0</text>
<text x="245.5" y="1096" text-anchor="middle" font-family="'Liberation Serif', serif" font-weight="bold" font-size="48.5">0</text>
<text x="370.2" y="1096" text-anchor="middle" font-family="'Liberation Serif', serif" font-weight="bold" font-size="48.5">500</text>
<text x="495.0" y="1096" text-anchor="middle" font-family="'Liberation Serif', serif" font-weight="bold" font-size="48.5">1000</text>
<text x="619.7" y="1096" text-anchor="middle" font-family="'Liberation Serif', serif" font-weight="bold" font-size="48.5">1500</text>
<text x="744.4" y="1096" text-anchor="middle" font-family="'Liberation Serif', serif" font-weight="bold" font-size="48.5">2000</text>
<text x="869.2" y="1096" text-anchor="middle" font-family="'Liberation Serif', serif" font-weight="bold" font-size="48.5">2500</text>
<text x="993.9" y="1096" text-anchor="middle" font-family="'Liberation Serif', serif" font-weight="bold" font-size="48.5">3000</text>
<text x="1118.6" y="1096" text-anchor="middle" font-family="'Liberation Serif', serif" font-weight="bold" font-size="48.5">3500</text>
<text x="1243.4" y="1096" text-anchor="middle" font-family="'Liberation Serif', serif" font-weight="bold" font-size="48.5">4000</text>
<text x="1368.1" y="1096" text-anchor="middle" font-family="'Liberation Serif', serif" font-weight="bold" font-size="48.5">4500</text>
<text x="678" y="1185" font-family="'Liberation Serif', serif" font-weight="bold" font-size="59">Time (sec)</text>
<text transform="translate(118,935.5) rotate(-90)" font-family="'Liberation Serif', serif" font-weight="bold" font-size="57.7">Current density (mA/cm<tspan font-size="37" dy="-24">2</tspan><tspan dy="24">)</tspan></text>
<path d="M674.5,552.4 L643,514" stroke="#000" stroke-width="5" fill="none"/>
<path d="M624.3,487.5 L653,509.6 L637,520.7 Z" fill="#000"/>
<path d="M765.5,719 767.5,719.7 769.5,721.2 771.5,721.2 773.5,718.7 775.5,728 777.5,726.5 779.5,720.4 781.5,720.7 783.5,713.5 785.5,723.2 787.5,722.6 789.5,715.2 791.5,717.3 793.5,715 795.5,715.4 797.5,714.6 799.5,714.3 801.5,711.2 803.5,709 805.5,703.9 807.5,707.9 809.5,698.8 811.5,705.5 813.5,700.6 815.5,699.7 817.5,691.5 819.5,687.8 821.5,688.1 823.5,683.5 825.5,677.7 827.5,685.5 829.5,682.7 831.5,678.2 833.5,681.9 835.5,682.6 837.5,683.2 839.5,681 841.5,686.6 843.5,685.6 845.5,683.8 847.5,686.7 849.5,691.3 851.5,688.8 853.5,686.6 855.5,689.6 857.5,687.6 859.5,691.5 861.5,685.8 863.5,687.3 865.5,690.8 867.5,692.7 869.5,692.6 871.5,686.9 873.5,693.2 875.5,692.4 877.5,692.8 879.5,694 881.5,694.4 883.5,695.3 885.5,695.4 887.5,699.6 889.5,699.2 891.5,701.8 893.5,703 895.5,701.1 897.5,703.8 899.5,701 901.5,704.7 903.5,701 905.5,704.4 907.5,703.2 909.5,702.8 911.5,703.1 913.5,706.6 915.5,706.9 917.5,703.6 919.5,708.5 921.5,705.8 923.5,711.9 925.5,709.4 927.5,704.9 929.5,704.5 931.5,705.4 933.5,701.4 935.5,701.4 937.5,701.5 939.5,701.7 941.5,703.8 943.5,699.9 945.5,705.2 947.5,698.6 949.5,704.2 951.5,704.4 953.5,706.4 955.5,707.9 957.5,706.6 959.5,707.5 961.5,707.7 963.5,710.3 965.5,710.5 967.5,712.5 969.5,712.5 971.5,713.4 973.5,716.4 975.5,715.2 977.5,710.9 979.5,710.3 981.5,705.8 983.5,709.3 985.5,704.1 987.5,705.3 989.5,703 991.5,696.9 993.5,697.2 995.5,697.6 997.5,699.9 999.5,700 1001.5,699.1 1003.5,698.2 1005.5,701.6 1007.5,701.1 1009.5,700.9 1011.5,703.2 1013.5,700.7 1015.5,703.5 1017.5,702.5 1019.5,700.4 1021.5,705.1 1023.5,706.2 1025.5,705.7 1027.5,703.4 1029.5,702.9 1031.5,703.5 1033.5,706.8 1035.5,708.4 1037.5,705.2 1039.5,707.9 1041.5,710.7 1043.5,708.1 1045.5,711.9 1047.5,705.6 1049.5,710.3 1051.5,712.7 1053.5,712.5 1055.5,714 1057.5,710 1059.5,712.2 1061.5,706.3 1063.5,708.7 1065.5,711.8 1067.5,708.7 1069.5,712.1 1071.5,710.3 1073.5,709.6 1075.5,705.6 1077.5,706.6 1079.5,708.5 1081.5,707.1 1083.5,707 1085.5,703.9 1087.5,710.2 1089.5,705 1091.5,707.7 1093.5,711.7 1095.5,709.8 1097.5,712.5 1099.5,712.2 1101.5,706.8 1103.5,713.7 1105.5,708.6 1107.5,713.9 1109.5,715.3 1111.5,715.2 1113.5,716.1 1115.5,714.6 1117.5,719.2 1119.5,719.1 1121.5,716.4 1123.5,719.5 1125.5,715.4 1127.5,716.5 1129.5,720.9 1131.5,719.8 1133.5,718.8 1135.5,717.4 1137.5,721.4 1139.5,721.9 1141.5,721.1 1143.5,719.7 1145.5,719.9 1147.5,721.9 1149.5,723 1151.5,722.4 1153.5,721.8 1155.5,723 1157.5,715.1 1159.5,715.4 1161.5,719.6 1163.5,722.8 1165.5,720.3 1167.5,723.9 1169.5,722.5 1171.5,725.4 1173.5,719.7 1175.5,723.6 1177.5,720.1 1179.5,720.1 1181.5,718.7 1183.5,713.9 1185.5,715 1187.5,709.1 1189.5,710.1 1191.5,708.9 1193.5,709.1 1195.5,697.3 1197.5,704.3 1199.5,704 1201.5,704.6 1203.5,700.6 1205.5,704.3 1207.5,702.8 1209.5,703 1211.5,704.7 1213.5,702.6 1215.5,705.4 1217.5,705.7 1219.5,700.3 1221.5,703 1223.5,702.9 1225.5,702.9 1227.5,701 1229.5,700.6 1231.5,702.2 1233.5,701.5 1235.5,697.8 1237.5,699.6 1239.5,696.6 1241.5,699.4 1243.5,700.6 1245.5,701.4 1247.5,702.7 1249.5,702.2 1251.5,703.3 1253.5,702.1 1255.5,704.9 1257.5,704.8 1259.5,704.5 1261.5,706.6 1263.5,704 1265.5,707.2 1267.5,703.9 1269.5,700.5 1271.5,700.6 1273.5,706.4 1275.5,707.5 1277.5,704.8 1279.5,702.4 1281.5,706.7 1283.5,700.8 1285.5,703.6 1287.5,702.9 1289.5,707.3 1291.5,710.9 1291.5,723 1289.5,722.5 1287.5,721.9 1285.5,721.2 1283.5,722.4 1281.5,720.3 1279.5,718.2 1277.5,719.2 1275.5,719.5 1273.5,723.9 1271.5,719.6 1269.5,719.6 1267.5,722.3 1265.5,722.3 1263.5,717.2 1261.5,718.2 1259.5,717.7 1257.5,716.7 1255.5,718.9 1253.5,717.7 1251.5,716.5 1249.5,713.8 1247.5,714.7 1245.5,719.4 1243.5,715.9 1241.5,712 1239.5,716.3 1237.5,714.1 1235.5,714.1 1233.5,713.8 1231.5,719.1 1229.5,717.4 1227.5,716.2 1225.5,718.4 1223.5,716.7 1221.5,715.5 1219.5,716.1 1217.5,715.6 1215.5,721.5 1213.5,716.6 1211.5,716.2 1209.5,718.5 1207.5,719.2 1205.5,715.4 1203.5,715.4 1201.5,716 1199.5,716.9 1197.5,717.4 1195.5,717.8 1193.5,721.2 1191.5,724.8 1189.5,724.1 1187.5,724.6 1185.5,727.9 1183.5,728.2 1181.5,729.8 1179.5,733.3 1177.5,733.5 1175.5,736.4 1173.5,735.3 1171.5,739.1 1169.5,737.5 1167.5,735.7 1165.5,738.1 1163.5,735.4 1161.5,733.5 1159.5,735.1 1157.5,735.1 1155.5,739.8 1153.5,736.6 1151.5,735.1 1149.5,738 1147.5,732.9 1145.5,734 1143.5,735.8 1141.5,741.4 1139.5,733.9 1137.5,733.1 1135.5,732.6 1133.5,737.9 1131.5,735.8 1129.5,736.3 1127.5,731.7 1125.5,731.1 1123.5,732.1 1121.5,732.2 1119.5,730.1 1117.5,729.8 1115.5,729.2 1113.5,729.2 1111.5,730.4 1109.5,730.1 1107.5,727.6 1105.5,727.4 1103.5,726.5 1101.5,727.1 1099.5,723.7 1097.5,723.8 1095.5,722.8 1093.5,722.2 1091.5,722 1089.5,724 1087.5,727.3 1085.5,727.5 1083.5,719.6 1081.5,722.4 1079.5,724.4 1077.5,721.2 1075.5,721.8 1073.5,720.9 1071.5,720.8 1069.5,730.9 1067.5,724.6 1065.5,724.7 1063.5,728.1 1061.5,724.1 1059.5,726.2 1057.5,725.7 1055.5,724.5 1053.5,723.9 1051.5,726.3 1049.5,722.3 1047.5,724.8 1045.5,722 1043.5,725.3 1041.5,720.4 1039.5,723.1 1037.5,719.7 1035.5,719.2 1033.5,721.2 1031.5,720.8 1029.5,717 1027.5,717.7 1025.5,717 1023.5,718.9 1021.5,715 1019.5,714.4 1017.5,717.7 1015.5,721.8 1013.5,713.2 1011.5,713.8 1009.5,717.6 1007.5,714.8 1005.5,718.7 1003.5,713 1001.5,716.7 999.5,709.6 997.5,712.7 995.5,715.1 993.5,710.2 991.5,713.1 989.5,714.1 987.5,717.4 985.5,718.4 983.5,720.1 981.5,720.9 979.5,729.5 977.5,727.3 975.5,729.2 973.5,731.4 971.5,737.2 969.5,725.8 967.5,725.1 965.5,725.5 963.5,721.7 961.5,721.1 959.5,722.4 957.5,722.5 955.5,720.1 953.5,717.9 951.5,716.9 949.5,718.5 947.5,717.4 945.5,715.9 943.5,717.7 941.5,714 939.5,713.9 937.5,718.8 935.5,714.8 933.5,716.4 931.5,719.4 929.5,718.7 927.5,720 925.5,726.9 923.5,722.6 921.5,722.3 919.5,722.1 917.5,720 915.5,725 913.5,723.1 911.5,717.1 909.5,718.2 907.5,717.6 905.5,715.5 903.5,718.3 901.5,717.4 899.5,714.2 897.5,715.9 895.5,717.3 893.5,713.5 891.5,711.8 889.5,716.2 887.5,710.1 885.5,708.7 883.5,710 881.5,706.9 879.5,713.4 877.5,707.6 875.5,706.3 873.5,706.9 871.5,705.5 869.5,704.3 867.5,702.2 865.5,705 863.5,701.9 861.5,703.4 859.5,704.4 857.5,703.4 855.5,703.4 853.5,704.1 851.5,705.3 849.5,706.2 847.5,701.6 845.5,699.1 843.5,705.9 841.5,696.9 839.5,695.7 837.5,694.7 835.5,693.2 833.5,694.1 831.5,696.1 829.5,699.2 827.5,701.3 825.5,697.6 823.5,699.2 821.5,705.9 819.5,705.7 817.5,710 815.5,714.1 813.5,716 811.5,718 809.5,722.6 807.5,721.1 805.5,720.3 803.5,723.1 801.5,727.6 799.5,726 797.5,727.3 795.5,728.7 793.5,730.6 791.5,731.7 789.5,732.6 787.5,735.5 785.5,735.5 783.5,734.3 781.5,734.9 779.5,738.2 777.5,738.9 775.5,737.8 773.5,737.7 771.5,739 769.5,739 767.5,733.6 765.5,733.6Z" fill="#111"/>
<path d="M766.0,709.2V742.7M774.0,726.1V742.8M790.0,722.4V730.3M792.0,669.0V737.5M802.0,703.3V730.9M812.0,702.0V726.0M818.0,688.2V705.7M820.0,692.3V718.3M822.0,687.3V700.8M826.0,681.4V722.0M830.0,676.2V689.8M832.0,680.0V717.6M836.0,680.6V693.4M852.0,685.1V707.3M898.0,681.8V723.6M908.0,680.9V718.8M910.0,691.8V711.4M918.0,710.7V724.5M920.0,696.5V715.5M948.0,703.2V734.5M974.0,712.6V722.8M980.0,703.8V723.3M996.0,686.7V705.3M1030.0,708.9V720.2M1036.0,707.9V719.5M1038.0,699.8V717.7M1068.0,704.1V737.4M1074.0,706.9V721.7M1082.0,696.4V715.4M1084.0,697.1V727.1M1090.0,658.3V724.9M1092.0,683.4V729.2M1094.0,712.0V718.4M1140.0,725.2V735.6M1142.0,721.9V731.6M1162.0,713.5V729.5M1184.0,703.4V735.1M1196.0,705.2V714.8M1198.0,699.7V724.7M1204.0,689.7V711.8M1206.0,706.9V755.3M1214.0,693.8V713.5M1220.0,705.8V711.5M1226.0,707.1V710.5M1228.0,695.4V720.7M1232.0,701.9V708.8M1248.0,705.9V711.1M1250.0,699.0V727.4M1258.0,699.3V730.9M1274.0,709.3V718.1M1278.0,682.8V715.0" stroke="#777" stroke-width="2.1" fill="none"/>
<path d="M768.0,727.8V740.2M772.0,723.8V785.5M778.0,725.3V740.8M784.0,726.9V750.0M800.0,658.7V720.0M808.0,711.9V729.2M838.0,688.2V697.2M850.0,667.6V699.9M870.0,687.7V709.8M876.0,691.7V704.0M880.0,685.6V701.4M882.0,696.6V731.0M886.0,699.1V718.0M890.0,697.4V711.7M892.0,696.0V712.3M922.0,714.1V742.8M928.0,691.2V715.5M938.0,681.3V723.7M942.0,689.5V722.7M958.0,712.9V723.6M976.0,720.2V730.8M982.0,698.8V718.2M1024.0,709.6V714.3M1026.0,696.0V716.1M1034.0,710.6V715.6M1042.0,698.2V732.1M1046.0,711.5V730.2M1052.0,708.8V722.4M1056.0,717.4V736.0M1062.0,711.4V728.0M1066.0,705.6V730.2M1088.0,713.9V729.2M1106.0,700.6V733.4M1114.0,708.9V729.2M1118.0,710.2V736.8M1122.0,717.2V764.3M1126.0,713.7V738.4M1128.0,714.2V729.2M1132.0,679.2V729.0M1134.0,707.1V739.7M1138.0,722.0V737.8M1168.0,718.8V743.0M1180.0,706.4V730.4M1182.0,709.9V724.9M1188.0,694.8V736.0M1190.0,697.9V732.4M1192.0,699.4V717.5M1194.0,693.1V722.1M1200.0,709.0V729.2M1210.0,696.5V720.0M1216.0,697.2V714.3M1222.0,686.9V725.3M1230.0,692.7V732.5M1240.0,704.7V723.2M1246.0,706.4V726.7M1264.0,705.0V715.2M1272.0,691.2V714.2" stroke="#333" stroke-width="2.1" fill="none"/>
<path d="M770.0,699.9V730.6M782.0,723.4V734.2M786.0,715.1V742.1M788.0,699.9V731.2M794.0,723.5V747.0M796.0,721.9V732.7M806.0,706.9V720.3M810.0,694.4V715.4M814.0,699.2V716.7M816.0,690.9V712.5M824.0,690.3V695.9M840.0,664.7V702.6M844.0,690.5V704.8M848.0,656.5V708.8M854.0,678.2V706.0M862.0,684.8V705.9M864.0,685.5V698.7M894.0,702.8V719.7M902.0,700.5V729.0M906.0,705.2V717.0M914.0,703.9V719.9M924.0,706.3V726.4M930.0,699.0V726.9M932.0,696.7V730.6M940.0,692.4V717.4M950.0,705.5V715.4M954.0,686.7V722.3M966.0,714.0V735.5M988.0,709.5V730.0M990.0,689.7V714.1M994.0,695.5V711.4M1004.0,695.1V721.0M1014.0,692.1V714.3M1016.0,697.8V711.7M1018.0,706.3V748.6M1020.0,709.5V737.7M1032.0,708.3V713.8M1044.0,711.2V723.5M1048.0,707.6V724.8M1050.0,716.4V729.7M1080.0,708.2V713.1M1100.0,693.5V724.4M1112.0,715.0V735.5M1136.0,718.7V733.5M1174.0,730.4V750.6M1176.0,701.8V734.3M1178.0,720.9V744.7M1186.0,719.3V732.1M1202.0,680.4V719.4M1212.0,705.9V715.9M1218.0,688.3V730.0M1236.0,684.4V730.7M1238.0,696.7V720.7M1242.0,697.5V709.3M1244.0,703.8V721.0M1256.0,698.0V711.6M1262.0,684.0V712.1M1276.0,690.1V720.3M1288.0,704.6V755.8" stroke="#111" stroke-width="2.1" fill="none"/>
<path d="M776.0,727.1V750.2M804.0,715.2V731.8M828.0,682.9V690.8M842.0,679.3V695.0M856.0,693.4V718.8M874.0,677.4V708.5M888.0,704.3V707.8M896.0,701.1V719.1M904.0,705.7V719.4M912.0,696.7V724.8M944.0,699.7V722.4M952.0,689.7V718.7M960.0,700.0V717.9M964.0,703.7V718.4M968.0,694.7V728.6M970.0,718.4V722.5M978.0,711.3V742.3M986.0,705.7V720.5M992.0,694.0V712.6M1002.0,694.8V709.4M1022.0,699.4V730.9M1060.0,703.7V733.9M1070.0,708.7V728.4M1072.0,701.1V730.6M1076.0,706.6V732.1M1078.0,700.7V714.3M1098.0,679.0V725.8M1102.0,708.3V731.9M1124.0,716.2V726.5M1130.0,714.4V747.8M1146.0,710.9V737.6M1150.0,717.7V749.0M1152.0,711.4V756.0M1154.0,724.2V740.5M1156.0,720.1V732.2M1208.0,686.0V753.2M1234.0,690.5V709.6M1252.0,693.1V720.5M1254.0,676.4V730.4M1260.0,707.4V713.7M1266.0,695.6V737.2M1270.0,697.9V727.5M1284.0,705.0V715.1M1286.0,697.9V720.3M1290.0,685.6V748.6" stroke="#000" stroke-width="2.1" fill="none"/>
<path d="M780.0,717.0V746.0M798.0,717.2V720.9M834.0,687.1V698.2M846.0,681.2V695.9M858.0,685.1V698.0M860.0,686.3V740.2M866.0,680.5V698.5M868.0,692.0V704.4M872.0,687.3V715.0M878.0,698.4V718.4M884.0,698.0V711.2M900.0,671.6V720.0M916.0,689.8V718.9M926.0,706.9V725.8M934.0,690.5V725.2M936.0,699.5V714.8M946.0,697.6V759.1M956.0,712.3V715.7M962.0,704.4V716.4M972.0,720.3V726.9M984.0,703.4V714.3M998.0,691.0V705.8M1000.0,700.0V763.9M1006.0,697.7V714.6M1008.0,690.3V707.6M1010.0,694.2V713.3M1012.0,694.4V730.1M1028.0,702.7V714.3M1040.0,696.7V734.3M1054.0,703.6V722.6M1058.0,714.5V721.1M1064.0,713.3V737.9M1086.0,708.1V742.0M1096.0,706.2V717.8M1104.0,717.8V720.4M1108.0,706.9V729.3M1110.0,717.0V724.1M1116.0,721.7V741.1M1120.0,722.6V729.0M1144.0,708.1V747.2M1148.0,725.5V732.8M1158.0,722.2V736.6M1160.0,721.8V747.3M1164.0,727.8V730.8M1166.0,716.0V737.8M1170.0,717.3V738.1M1172.0,710.8V734.9M1224.0,677.1V723.3M1268.0,709.5V718.6M1280.0,698.8V743.0M1282.0,703.4V746.2" stroke="#555" stroke-width="2.1" fill="none"/>
<rect x="764.5" y="533.5" width="528.5" height="388.0" fill="none" stroke="#1a1a1a" stroke-width="2.2"/>
<path d="M756.5,533.5H764.5 M759.5,565.8H764.5 M756.5,598.2H764.5 M759.5,630.5H764.5 M756.5,662.8H764.5 M759.5,695.2H764.5 M756.5,727.5H764.5 M759.5,759.8H764.5 M756.5,792.2H764.5 M759.5,824.5H764.5 M756.5,856.8H764.5 M759.5,889.2H764.5 M756.5,921.5H764.5 M764.5,921.5V930.5 M817.4,921.5V926.5 M870.2,921.5V930.5 M923.1,921.5V926.5 M975.9,921.5V930.5 M1028.8,921.5V926.5 M1081.6,921.5V930.5 M1134.4,921.5V926.5 M1187.3,921.5V930.5 M1240.1,921.5V926.5 M1293.0,921.5V930.5" stroke="#1a1a1a" stroke-width="2.4" fill="none"/>
<text x="752" y="540.5" text-anchor="end" font-family="'Liberation Serif', serif" font-weight="bold" font-size="21" fill="#4a4a4a">0.00</text>
<text x="752" y="605.2" text-anchor="end" font-family="'Liberation Serif', serif" font-weight="bold" font-size="21" fill="#4a4a4a">-0.05</text>
<text x="752" y="669.8" text-anchor="end" font-family="'Liberation Serif', serif" font-weight="bold" font-size="21" fill="#4a4a4a">-0.10</text>
<text x="752" y="734.5" text-anchor="end" font-family="'Liberation Serif', serif" font-weight="bold" font-size="21" fill="#4a4a4a">-0.15</text>
<text x="752" y="799.2" text-anchor="end" font-family="'Liberation Serif', serif" font-weight="bold" font-size="21" fill="#4a4a4a">-0.20</text>
<text x="752" y="863.8" text-anchor="end" font-family="'Liberation Serif', serif" font-weight="bold" font-size="21" fill="#4a4a4a">-0.25</text>
<text x="752" y="928.5" text-anchor="end" font-family="'Liberation Serif', serif" font-weight="bold" font-size="21" fill="#4a4a4a">0.30</text>
<text x="764.5" y="952" text-anchor="middle" font-family="'Liberation Serif', serif" font-weight="bold" font-size="21" fill="#4a4a4a">1600</text>
<text x="870.2" y="952" text-anchor="middle" font-family="'Liberation Serif', serif" font-weight="bold" font-size="21" fill="#4a4a4a">1620</text>
<text x="975.9" y="952" text-anchor="middle" font-family="'Liberation Serif', serif" font-weight="bold" font-size="21" fill="#4a4a4a">1640</text>
<text x="1081.6" y="952" text-anchor="middle" font-family="'Liberation Serif', serif" font-weight="bold" font-size="21" fill="#4a4a4a">1660</text>
<text x="1187.3" y="952" text-anchor="middle" font-family="'Liberation Serif', serif" font-weight="bold" font-size="21" fill="#4a4a4a">1680</text>
<text x="1293.0" y="952" text-anchor="middle" font-family="'Liberation Serif', serif" font-weight="bold" font-size="21" fill="#4a4a4a">1700</text>
<text x="1031" y="990" text-anchor="middle" font-family="'Liberation Serif', serif" font-weight="bold" font-size="24" fill="#333">Time (sec)</text>
<text transform="translate(691,872) rotate(-90)" font-family="'Liberation Serif', serif" font-weight="bold" font-size="22.8" fill="#333">Current density (mA/cm<tspan font-size="14" dy="-9">2</tspan><tspan dy="9">)</tspan></text>
<text x="843" y="618" font-family="'Liberation Serif', serif" font-weight="bold" font-size="33.7">bubble accumulation</text>
<text x="975.5" y="800" font-family="'Liberation Serif', serif" font-weight="bold" font-size="33.7">bubble release</text>
<path d="M992.7,630.8 L1008,655" stroke="#333" stroke-width="1.6" stroke-dasharray="3 2"/><path d="M1004,652 L1011,660 L1010,649 Z" fill="#222"/>
<path d="M1028.7,762.9 L1021,738" stroke="#333" stroke-width="1.6" stroke-dasharray="3 2"/><path d="M1016,741 L1019,731 L1024,740 Z" fill="#222"/>
<text x="43.5" y="1225" font-family="'Liberation Serif', serif" font-weight="bold" font-size="130">(b)</text>
<path d="M292,1427.3 H1318.6" stroke="#000" stroke-width="4.5" stroke-dasharray="34 15 8 14.85"/>
<path d="M274,1427.3 H292" stroke="#222" stroke-width="2.6"/>
<path d="M583.8,2169.3 584.2,2167.0 584.7,2164.7 585.2,2162.3 585.7,2160.0 586.2,2157.7 586.7,2155.4 587.2,2153.1 587.7,2150.7 588.1,2148.4 588.6,2146.1 589.1,2143.8 589.6,2141.5 590.1,2139.1 590.5,2136.8 591.0,2134.5 591.5,2132.2 591.9,2129.8 592.4,2127.5 592.9,2125.2 593.4,2122.8 593.8,2120.5 594.3,2118.2 594.8,2115.8 595.2,2113.5 595.7,2111.2 596.2,2108.8 596.6,2106.5 597.1,2104.2 597.6,2101.8 598.0,2099.5 598.5,2097.2 599.0,2094.8 599.4,2092.5 599.9,2090.1 600.3,2087.8 600.8,2085.5 601.3,2083.1 601.7,2080.8 602.2,2078.4 602.7,2076.1 603.1,2073.8 603.6,2071.4 604.1,2069.1 604.5,2066.7 605.0,2064.4 605.5,2062.0 605.9,2059.7 606.4,2057.4 606.9,2055.0 607.3,2052.7 607.8,2050.3 608.3,2048.0 608.8,2045.6 609.2,2043.3 609.7,2041.0 610.2,2038.6 610.7,2036.3 611.1,2033.9 611.6,2031.6 612.1,2029.2 612.6,2026.9 613.1,2024.6 613.5,2022.2 614.0,2019.9 614.5,2017.5 615.0,2015.2 615.5,2012.9 616.0,2010.5 616.5,2008.2 617.0,2005.8 617.5,2003.5 618.0,2001.2 618.5,1998.8 619.0,1996.5 619.5,1994.1 620.0,1991.8 620.5,1989.5 621.0,1987.1 621.5,1984.8 622.0,1982.5 622.5,1980.1 623.1,1977.8 623.6,1975.5 624.1,1973.1 624.6,1970.8 625.2,1968.5 625.7,1966.1 626.2,1963.8 626.8,1961.5 627.3,1959.1 627.8,1956.8 628.4,1954.5 628.9,1952.2 629.5,1949.8 630.0,1947.5 630.6,1945.2 631.2,1942.9 631.7,1940.6 632.3,1938.2 632.9,1935.9 633.4,1933.6 634.0,1931.3 634.6,1929.0 635.2,1926.7 635.8,1924.3 636.3,1922.0 636.9,1919.7 637.5,1917.4 638.1,1915.1 638.7,1912.8 639.4,1910.5 640.0,1908.2 640.6,1905.9 641.2,1903.6 641.8,1901.3 642.5,1899.0 643.1,1896.7 643.7,1894.4 644.4,1892.1 645.0,1889.8 645.7,1887.5 646.3,1885.2 647.0,1882.9 647.6,1880.6 648.3,1878.4 649.0,1876.1 649.7,1873.8 650.3,1871.5 651.0,1869.2 651.7,1867.0 652.4,1864.7 653.1,1862.4 653.8,1860.1 654.5,1857.9 655.2,1855.6 656.0,1853.3 656.7,1851.1 657.4,1848.8 658.2,1846.5 658.9,1844.3 659.6,1842.0 660.4,1839.8 661.1,1837.5 661.9,1835.3 662.7,1833.0 663.5,1830.8 664.2,1828.5 665.0,1826.3 665.8,1824.0 666.6,1821.8 667.4,1819.6 668.2,1817.3 669.0,1815.1 669.8,1812.9 670.7,1810.6 671.5,1808.4 672.3,1806.2 673.2,1804.0 674.0,1801.7 674.9,1799.5 675.7,1797.3 676.6,1795.1 677.4,1792.9 678.3,1790.7 679.2,1788.5 680.1,1786.3 681.0,1784.0 681.8,1781.8 682.7,1779.6 683.7,1777.5 684.6,1775.3 685.5,1773.1 686.4,1770.9 687.3,1768.7 688.3,1766.5 689.2,1764.3 690.1,1762.1 691.1,1760.0 692.0,1757.8 693.0,1755.6 694.0,1753.4 694.9,1751.3 695.9,1749.1 696.9,1746.9 697.9,1744.8 698.9,1742.6 699.9,1740.5 700.9,1738.3 701.9,1736.1 702.9,1734.0 703.9,1731.8 704.9,1729.7 706.0,1727.6 707.0,1725.4 708.0,1723.3 709.1,1721.1 710.1,1719.0 711.2,1716.9 712.3,1714.7 713.3,1712.6 714.4,1710.5 715.5,1708.4 716.6,1706.3 717.6,1704.1 718.7,1702.0 719.8,1699.9 720.9,1697.8 722.1,1695.7 723.2,1693.6 724.3,1691.5 725.4,1689.4 726.6,1687.3 727.7,1685.2 728.9,1683.1 730.0,1681.0 731.2,1678.9 732.3,1676.9 733.5,1674.8 734.7,1672.7 735.9,1670.6 737.1,1668.6 738.3,1666.5 739.5,1664.4 740.7,1662.4 741.9,1660.3 743.1,1658.3 744.3,1656.2 745.6,1654.2 746.8,1652.1 748.1,1650.1 749.3,1648.1 750.6,1646.0 751.9,1644.0 753.1,1642.0 754.4,1640.0 755.7,1638.0 757.0,1635.9 758.3,1633.9 759.6,1631.9 761.0,1629.9 762.3,1627.9 763.6,1626.0 765.0,1624.0 766.3,1622.0 767.7,1620.0 769.1,1618.0 770.4,1616.1 771.8,1614.1 773.2,1612.2 774.6,1610.2 776.0,1608.2 777.4,1606.3 778.9,1604.4 780.3,1602.4 781.7,1600.5 783.2,1598.6 784.7,1596.7 786.1,1594.7 787.6,1592.8 789.1,1590.9 790.6,1589.1 792.1,1587.2 793.6,1585.3 795.1,1583.4 796.6,1581.6 798.2,1579.7 799.7,1577.9 801.3,1576.0 802.9,1574.2 804.4,1572.4 806.0,1570.6 807.6,1568.8 809.2,1567.0 810.9,1565.3 812.5,1563.5 814.1,1561.8 815.8,1560.0 817.4,1558.4 819.1,1557.7 820.8,1554.1 822.5,1554.1 824.2,1551.3 825.9,1549.7 827.6,1550.0 829.4,1546.8 831.1,1545.0 832.9,1544.1 834.6,1542.9 836.4,1540.3 838.2,1539.3 840.0,1536.3 841.8,1535.4 843.7,1533.8 845.5,1531.5 847.3,1529.9 849.2,1528.4 851.1,1528.2 853.0,1526.8 854.9,1525.3 856.8,1524.3 858.7,1521.7 860.7,1521.5 862.6,1520.5 864.6,1519.6 866.5,1516.9 868.5,1516.0 870.5,1513.3 872.5,1513.5 874.5,1510.7 876.6,1510.3 878.6,1511.3 880.6,1507.2 882.7,1508.8 884.8,1507.2 886.8,1505.5 888.9,1505.1 891.0,1504.1 893.1,1503.5 895.2,1501.3 897.4,1500.0 899.5,1498.9 901.6,1497.6 903.8,1497.5 905.9,1495.8 908.1,1496.5 910.3,1493.0 912.4,1492.7 914.6,1492.0 916.8,1490.0 919.0,1492.7 921.2,1488.0 923.4,1489.1 925.7,1488.0 927.9,1489.1 930.1,1485.0 932.4,1487.0 934.6,1484.6 936.9,1484.3 939.1,1483.1 941.4,1483.5 943.6,1481.2 945.9,1481.4 948.2,1481.1 950.5,1481.7 952.8,1477.2 955.1,1480.1 957.4,1478.9 959.7,1477.0 962.0,1477.0 964.3,1475.7 966.6,1477.0 968.9,1475.1 971.2,1474.1 973.6,1473.5 975.9,1473.0 978.2,1472.4 980.6,1471.2 982.9,1473.3 985.2,1469.2 987.6,1467.2 989.9,1469.8 992.3,1469.3 994.6,1469.2 997.0,1468.2 999.3,1467.8 1001.7,1467.8 1004.0,1467.9 1006.4,1466.1 1008.7,1465.8 1011.1,1467.4 1013.4,1465.7 1015.8,1463.9 1018.2,1466.5 1020.5,1464.7 1022.9,1463.1 1025.2,1462.2 1027.6,1463.1 1030.0,1461.7 1032.3,1461.1 1034.7,1460.6 1037.1,1460.9 1039.4,1462.0 1041.8,1460.3 1044.1,1459.1 1046.5,1460.7 1048.9,1459.8 1051.2,1460.2 1053.6,1460.2 1056.0,1458.7 1058.3,1458.4 1060.7,1458.2 1063.1,1456.9 1065.5,1458.3 1067.8,1458.7 1070.2,1457.3 1072.6,1456.7 1074.9,1456.4 1077.3,1455.7 1079.7,1455.4 1082.0,1455.6 1084.4,1454.9 1086.8,1455.1 1089.2,1453.8 1091.5,1455.3 1093.9,1454.8 1096.3,1453.6 1098.7,1452.3 1101.0,1454.2 1103.4,1455.0 1105.8,1453.1 1108.2,1453.2 1110.5,1452.9 1112.9,1453.8 1115.3,1452.2 1117.7,1453.8 1120.0,1452.4 1122.4,1453.4 1124.8,1452.4 1127.2,1452.0 1129.5,1450.7 1131.9,1451.2 1134.3,1451.5 1136.7,1452.1 1139.1,1451.6 1141.4,1450.6 1143.8,1451.5 1146.2,1451.8 1148.6,1450.7 1150.9,1450.3 1153.3,1450.2 1155.7,1451.1 1158.1,1450.7 1160.5,1449.3 1162.8,1450.3 1165.2,1449.4 1167.6,1449.0 1170.0,1450.7 1172.4,1450.2 1174.7,1448.6 1177.1,1449.2 1179.5,1449.5 1181.9,1448.3 1184.3,1448.6 1186.6,1449.2 1189.0,1446.9 1191.4,1448.6 1193.8,1448.9 1196.1,1448.5 1198.5,1446.7 1200.9,1448.1 1203.3,1446.9 1205.7,1448.0 1208.0,1447.9 1210.4,1447.4 1212.8,1446.4 1215.2,1446.4 1217.6,1447.6 1219.9,1445.9 1222.3,1447.0 1224.7,1446.8 1227.1,1446.0 1229.5,1448.2 1231.8,1446.0 1234.2,1447.7 1236.6,1443.8 1239.0,1443.4 1241.3,1446.1 1243.7,1445.7 1246.1,1444.6 1248.5,1444.7 1250.8,1442.8 1253.2,1443.8 1255.6,1443.3 1258.0,1443.8 1260.3,1444.6 1262.7,1443.7 1265.1,1443.7 1267.5,1442.6 1269.8,1442.6 1272.2,1442.9 1274.6,1442.3 1277.0,1443.5 1279.3,1441.3 1281.7,1443.6 1284.1,1440.8 1286.4,1442.4 1288.8,1440.5 1291.2,1442.4 1293.6,1440.8 1295.9,1440.8 1298.3,1440.8 1300.7,1439.3 1303.0,1438.7 1305.4,1437.5 1307.8,1440.1 1310.1,1438.1 1312.5,1437.9 1314.9,1438.1 1317.2,1439.6" fill="none" stroke="#008800" stroke-width="5" stroke-linejoin="round"/>
<path d="M569.6,2169.5 570.0,2166.5 570.5,2163.4 571.0,2160.4 571.5,2157.3 571.9,2154.3 572.4,2151.3 572.9,2148.2 573.4,2145.2 573.9,2142.2 574.5,2139.2 575.0,2136.1 575.5,2133.1 576.0,2130.1 576.6,2127.0 577.1,2124.0 577.7,2121.0 578.2,2118.0 578.8,2115.0 579.3,2111.9 579.9,2108.9 580.5,2105.9 581.1,2102.9 581.6,2099.9 582.2,2096.8 582.8,2093.8 583.4,2090.8 584.0,2087.8 584.6,2084.8 585.2,2081.8 585.9,2078.8 586.5,2075.8 587.1,2072.7 587.7,2069.7 588.4,2066.7 589.0,2063.7 589.7,2060.7 590.3,2057.7 591.0,2054.7 591.6,2051.7 592.3,2048.7 592.9,2045.7 593.6,2042.7 594.3,2039.7 595.0,2036.7 595.6,2033.7 596.3,2030.7 597.0,2027.7 597.7,2024.7 598.4,2021.7 599.1,2018.7 599.8,2015.7 600.5,2012.7 601.2,2009.8 601.9,2006.8 602.6,2003.8 603.4,2000.8 604.1,1997.8 604.8,1994.8 605.5,1991.8 606.3,1988.8 607.0,1985.8 607.7,1982.9 608.5,1979.9 609.2,1976.9 610.0,1973.9 610.7,1970.9 611.5,1967.9 612.2,1965.0 613.0,1962.0 613.7,1959.0 614.5,1956.0 615.3,1953.0 616.0,1950.1 616.8,1947.1 617.6,1944.1 618.3,1941.1 619.1,1938.2 619.9,1935.2 620.7,1932.2 621.4,1929.2 622.2,1926.3 623.0,1923.3 623.8,1920.3 624.6,1917.4 625.4,1914.4 626.2,1911.4 627.0,1908.4 627.7,1905.5 628.5,1902.5 629.3,1899.5 630.1,1896.6 630.9,1893.6 631.7,1890.6 632.5,1887.7 633.3,1884.7 634.1,1881.7 634.9,1878.8 635.8,1875.8 636.6,1872.8 637.4,1869.9 638.2,1866.9 639.0,1864.0 639.8,1861.0 640.6,1858.0 641.4,1855.1 642.2,1852.1 643.0,1849.2 643.9,1846.2 644.7,1843.2 645.5,1840.3 646.3,1837.3 647.1,1834.4 648.0,1831.4 648.8,1828.5 649.6,1825.5 650.5,1822.6 651.3,1819.6 652.2,1816.7 653.1,1813.8 654.0,1810.8 654.8,1807.9 655.7,1805.0 656.7,1802.0 657.6,1799.1 658.5,1796.2 659.5,1793.3 660.4,1790.4 661.4,1787.5 662.4,1784.6 663.4,1781.7 664.5,1778.8 665.5,1775.9 666.6,1773.0 667.7,1770.2 668.7,1767.3 669.8,1764.4 670.9,1761.6 672.0,1758.7 673.2,1755.8 674.3,1753.0 675.4,1750.1 676.5,1747.3 677.7,1744.4 678.8,1741.5 679.9,1738.7 681.1,1735.8 682.2,1732.9 683.3,1730.1 684.4,1727.2 685.6,1724.3 686.7,1721.5 687.8,1718.6 689.0,1715.7 690.1,1712.9 691.3,1710.0 692.4,1707.2 693.6,1704.3 694.8,1701.5 695.9,1698.6 697.1,1695.8 698.3,1693.0 699.6,1690.2 700.8,1687.3 702.0,1684.5 703.3,1681.8 704.6,1679.0 705.9,1676.2 707.2,1673.4 708.5,1670.7 709.8,1667.9 711.1,1665.1 712.5,1662.4 713.8,1659.7 715.2,1656.9 716.6,1654.2 718.0,1651.5 719.4,1648.8 720.8,1646.1 722.3,1643.4 723.7,1640.8 725.2,1638.1 726.7,1635.4 728.2,1632.8 729.7,1630.1 731.3,1627.5 732.8,1624.8 734.4,1622.2 735.9,1619.6 737.5,1617.0 739.1,1614.3 740.7,1611.7 742.4,1609.1 744.0,1606.6 745.7,1604.0 747.4,1601.4 749.1,1598.8 750.8,1596.3 752.5,1593.7 754.2,1591.2 756.0,1588.7 757.8,1586.1 759.6,1583.6 761.4,1581.1 763.2,1578.6 765.0,1576.1 766.9,1573.6 768.8,1571.1 770.6,1568.7 772.5,1566.2 774.5,1563.8 776.4,1561.3 778.4,1558.9 780.3,1556.7 782.3,1554.0 784.3,1551.9 786.4,1549.8 788.4,1547.2 790.5,1545.4 792.5,1542.1 794.6,1540.2 796.8,1537.7 798.9,1535.4 801.1,1533.4 803.2,1531.4 805.4,1529.3 807.6,1527.2 809.9,1525.7 812.1,1523.1 814.4,1520.0 816.7,1518.7 819.0,1516.4 821.3,1514.4 823.7,1513.2 826.0,1510.7 828.4,1508.1 830.9,1507.1 833.3,1505.0 835.7,1502.9 838.2,1501.2 840.7,1499.6 843.2,1498.1 845.7,1496.2 848.3,1494.8 850.9,1493.9 853.5,1491.2 856.1,1489.7 858.7,1488.3 861.3,1487.4 864.0,1485.2 866.6,1484.6 869.3,1482.0 872.0,1480.8 874.8,1479.8 877.5,1478.1 880.2,1476.9 883.0,1476.0 885.8,1474.9 888.6,1473.4 891.4,1472.0 894.2,1471.5 897.0,1470.0 899.8,1468.6 902.7,1468.0 905.6,1466.1 908.4,1465.5 911.3,1464.6 914.2,1463.3 917.1,1462.1 920.0,1461.5 923.0,1460.2 925.9,1459.3 928.8,1458.2 931.8,1458.3 934.7,1456.7 937.7,1456.5 940.7,1455.4 943.7,1454.3 946.7,1453.9 949.7,1453.0 952.7,1452.2 955.7,1450.9 958.7,1450.8 961.7,1450.4 964.7,1449.6 967.7,1449.2 970.8,1448.8 973.8,1447.7 976.8,1447.8 979.9,1445.8 982.9,1445.8 986.0,1444.4 989.0,1445.2 992.1,1444.4 995.1,1444.5 998.2,1443.3 1001.2,1442.2 1004.3,1443.0 1007.3,1441.6 1010.4,1441.2 1013.4,1441.3 1016.5,1441.2 1019.5,1440.4 1022.6,1440.3 1025.6,1439.2 1028.7,1440.3 1031.7,1439.3 1034.8,1439.1 1037.8,1439.0 1040.9,1438.5 1044.0,1438.3 1047.0,1437.6 1050.1,1437.7 1053.1,1437.7 1056.2,1437.8 1059.3,1437.1 1062.3,1437.0 1065.4,1436.9 1068.4,1436.8 1071.5,1436.6 1074.6,1436.2 1077.6,1436.0 1080.7,1436.5 1083.8,1436.1 1086.8,1435.9 1089.9,1437.1 1093.0,1436.0 1096.0,1435.9 1099.1,1435.6 1102.1,1435.0 1105.2,1435.8 1108.3,1435.3 1111.3,1435.3 1114.4,1435.6 1117.5,1435.6 1120.6,1435.3 1123.6,1435.2 1126.7,1436.0 1129.8,1435.3 1132.8,1434.7 1135.9,1435.4 1139.0,1435.2 1142.0,1435.1 1145.1,1435.4 1148.2,1435.2 1151.3,1436.0 1154.3,1435.3 1157.4,1435.3 1160.5,1435.7 1163.5,1435.0 1166.6,1435.7 1169.7,1435.3 1172.8,1435.8 1175.8,1435.0 1178.9,1435.6 1182.0,1434.8 1185.1,1435.3 1188.1,1435.5 1191.2,1435.8 1194.3,1436.4 1197.3,1436.4 1200.4,1435.1 1203.5,1435.4 1206.6,1436.2 1209.6,1435.9 1212.7,1435.2 1215.8,1436.0 1218.9,1435.4 1222.0,1435.5 1225.0,1435.4 1228.1,1435.8 1231.2,1436.8 1234.3,1436.1 1237.3,1435.9 1240.4,1436.9 1243.5,1435.7 1246.6,1435.9 1249.6,1435.8 1252.7,1436.1 1255.8,1435.7 1258.9,1436.4 1261.9,1435.7 1265.0,1436.0 1268.1,1435.8 1271.2,1435.3 1274.3,1435.2 1277.3,1435.5 1280.4,1434.5 1283.5,1435.4 1286.6,1435.3 1289.6,1435.2 1292.7,1435.0 1295.8,1435.1 1298.9,1434.7 1302.0,1434.9 1305.0,1433.9 1308.1,1434.8 1311.2,1433.9 1314.3,1434.2 1317.3,1433.7" fill="none" stroke="#ff0000" stroke-width="5" stroke-linejoin="round"/>
<rect x="292" y="1344.5" width="1026.6" height="825.0" fill="none" stroke="#1a1a1a" stroke-width="2.8"/>
<path d="M274,1344.5H292 M283,1385.8H292 M274,1427.0H292 M283,1468.2H292 M274,1509.5H292 M283,1550.8H292 M274,1592.0H292 M283,1633.2H292 M274,1674.5H292 M283,1715.8H292 M274,1757.0H292 M283,1798.2H292 M274,1839.5H292 M283,1880.8H292 M274,1922.0H292 M283,1963.2H292 M274,2004.5H292 M283,2045.8H292 M274,2087.0H292 M283,2128.2H292 M274,2169.5H292 M292.0,2169.5V2186.5 M394.7,2169.5V2178.5 M497.3,2169.5V2186.5 M600.0,2169.5V2178.5 M702.6,2169.5V2186.5 M805.3,2169.5V2178.5 M908.0,2169.5V2186.5 M1010.6,2169.5V2178.5 M1113.3,2169.5V2186.5 M1215.9,2169.5V2178.5 M1318.6,2169.5V2186.5" stroke="#1a1a1a" stroke-width="2.8" fill="none"/>
<text transform="translate(263.5,1358.5) scale(1,1.08)" text-anchor="end" font-family="'Liberation Sans', sans-serif" font-weight="bold" font-size="46.5">0.5</text>
<text transform="translate(263.5,1441.0) scale(1,1.08)" text-anchor="end" font-family="'Liberation Sans', sans-serif" font-weight="bold" font-size="46.5">0.0</text>
<text transform="translate(263.5,1523.5) scale(1,1.08)" text-anchor="end" font-family="'Liberation Sans', sans-serif" font-weight="bold" font-size="46.5">-0.5</text>
<text transform="translate(263.5,1606.0) scale(1,1.08)" text-anchor="end" font-family="'Liberation Sans', sans-serif" font-weight="bold" font-size="46.5">-1.0</text>
<text transform="translate(263.5,1688.5) scale(1,1.08)" text-anchor="end" font-family="'Liberation Sans', sans-serif" font-weight="bold" font-size="46.5">-1.5</text>
<text transform="translate(263.5,1771.0) scale(1,1.08)" text-anchor="end" font-family="'Liberation Sans', sans-serif" font-weight="bold" font-size="46.5">-2.0</text>
<text transform="translate(263.5,1853.5) scale(1,1.08)" text-anchor="end" font-family="'Liberation Sans', sans-serif" font-weight="bold" font-size="46.5">-2.5</text>
<text transform="translate(263.5,1936.0) scale(1,1.08)" text-anchor="end" font-family="'Liberation Sans', sans-serif" font-weight="bold" font-size="46.5">-3.0</text>
<text transform="translate(263.5,2018.5) scale(1,1.08)" text-anchor="end" font-family="'Liberation Sans', sans-serif" font-weight="bold" font-size="46.5">-3.5</text>
<text transform="translate(263.5,2101.0) scale(1,1.08)" text-anchor="end" font-family="'Liberation Sans', sans-serif" font-weight="bold" font-size="46.5">-4.0</text>
<text transform="translate(263.5,2183.5) scale(1,1.08)" text-anchor="end" font-family="'Liberation Sans', sans-serif" font-weight="bold" font-size="46.5">-4.5</text>
<text transform="translate(292.0,2234) scale(1,1.08)" text-anchor="middle" font-family="'Liberation Sans', sans-serif" font-weight="bold" font-size="47">-0.5</text>
<text transform="translate(497.3,2234) scale(1,1.08)" text-anchor="middle" font-family="'Liberation Sans', sans-serif" font-weight="bold" font-size="47">-0.4</text>
<text transform="translate(702.6,2234) scale(1,1.08)" text-anchor="middle" font-family="'Liberation Sans', sans-serif" font-weight="bold" font-size="47">-0.3</text>
<text transform="translate(908.0,2234) scale(1,1.08)" text-anchor="middle" font-family="'Liberation Sans', sans-serif" font-weight="bold" font-size="47">-0.2</text>
<text transform="translate(1113.3,2234) scale(1,1.08)" text-anchor="middle" font-family="'Liberation Sans', sans-serif" font-weight="bold" font-size="47">-0.1</text>
<text transform="translate(1318.6,2234) scale(1,1.08)" text-anchor="middle" font-family="'Liberation Sans', sans-serif" font-weight="bold" font-size="47">0.0</text>
<text x="571.5" y="2316" font-family="'Liberation Serif', serif" font-weight="bold" font-size="51" xml:space="preserve">Potential (V vs  RHE)</text>
<text transform="translate(134,2005) rotate(-90)" font-family="'Liberation Serif', serif" font-weight="bold" font-size="50">Current density (mA/cm<tspan font-size="32" dy="-21">2</tspan><tspan dy="21">)</tspan></text>
<path d="M1011.5,1522 V1465" stroke="#ff0000" stroke-width="4.6"/><path d="M1008.5,1445 L1014.5,1445 L1018.5,1468.5 L1005,1468.5 Z" fill="#ff0000"/>
<path d="M1227.8,1522 V1465" stroke="#008800" stroke-width="4.6"/><path d="M1223.2,1448 L1232.4,1448 L1234.3,1468 L1221.5,1468 Z" fill="#008800"/>
<text x="937" y="1582.5" font-family="'Liberation Serif', serif" font-weight="bold" font-size="51" fill="#ff0000">-0.15V</text>
<text x="1140" y="1583.5" font-family="'Liberation Serif', serif" font-weight="bold" font-size="51" fill="#008800">-0.045V</text>
<path d="M831,1729.6 H933.6" stroke="#008800" stroke-width="5"/><path d="M831,1790.4 H933.6" stroke="#ff0000" stroke-width="5"/>
<text x="942" y="1743.7" font-family="'Liberation Sans', sans-serif" font-weight="bold" font-size="47">After 200 cycles</text>
<text x="941.5" y="1803.6" font-family="'Liberation Sans', sans-serif" font-weight="bold" font-size="47">Initial</text>
<text x="43.5" y="2397" font-family="'Liberation Serif', serif" font-weight="bold" font-size="130">(c)</text>
<defs><clipPath id="cl0"><polygon points="166.2,2540.0 1425.7,2540.0 1283.5,2881.0 24.0,2881.0"/></clipPath><clipPath id="cl1"><polygon points="166.2,2596.5 1425.7,2596.5 1283.5,2937.5 24.0,2937.5"/></clipPath><clipPath id="cl2"><polygon points="166.2,2649.0 1425.7,2649.0 1283.5,2990.0 24.0,2990.0"/></clipPath><clipPath id="cl3"><polygon points="166.2,2706.0 1425.7,2706.0 1283.5,3047.0 24.0,3047.0"/></clipPath></defs>
<polygon points="166.2,2706.0 1425.7,2706.0 1283.5,3047.0 24.0,3047.0" fill="#d6d6d6" fill-opacity="0.49"/>
<g clip-path="url(#cl3)"><path d="M166.8,2738.5 L305.4,2717.5 L413.2,2738.5 L403.2,2777.9 L264.6,2798.9 L156.8,2777.9ZM413.2,2738.5 L551.8,2717.5 L659.6,2738.5 L649.6,2777.9 L511.0,2798.9 L403.2,2777.9ZM659.6,2738.5 L798.2,2717.5 L906.0,2738.5 L896.0,2777.9 L757.4,2798.9 L649.6,2777.9ZM906.0,2738.5 L1044.6,2717.5 L1152.4,2738.5 L1142.4,2777.9 L1003.8,2798.9 L896.0,2777.9ZM1152.4,2738.5 L1291.0,2717.5 L1398.8,2738.5 L1388.8,2777.9 L1250.2,2798.9 L1142.4,2777.9ZM264.6,2798.9 L403.2,2777.9 L511.0,2798.9 L501.0,2838.3 L362.4,2859.3 L254.6,2838.3ZM511.0,2798.9 L649.6,2777.9 L757.4,2798.9 L747.4,2838.3 L608.8,2859.3 L501.0,2838.3ZM757.4,2798.9 L896.0,2777.9 L1003.8,2798.9 L993.8,2838.3 L855.2,2859.3 L747.4,2838.3ZM1003.8,2798.9 L1142.4,2777.9 L1250.2,2798.9 L1240.2,2838.3 L1101.6,2859.3 L993.8,2838.3ZM116.0,2859.3 L254.6,2838.3 L362.4,2859.3 L352.4,2898.7 L213.8,2919.7 L106.0,2898.7ZM362.4,2859.3 L501.0,2838.3 L608.8,2859.3 L598.8,2898.7 L460.2,2919.7 L352.4,2898.7ZM608.8,2859.3 L747.4,2838.3 L855.2,2859.3 L845.2,2898.7 L706.6,2919.7 L598.8,2898.7ZM855.2,2859.3 L993.8,2838.3 L1101.6,2859.3 L1091.6,2898.7 L953.0,2919.7 L845.2,2898.7ZM1101.6,2859.3 L1240.2,2838.3 L1348.0,2859.3 L1338.0,2898.7 L1199.4,2919.7 L1091.6,2898.7ZM213.8,2919.7 L352.4,2898.7 L460.2,2919.7 L450.2,2959.1 L311.6,2980.1 L203.8,2959.1ZM460.2,2919.7 L598.8,2898.7 L706.6,2919.7 L696.6,2959.1 L558.0,2980.1 L450.2,2959.1ZM706.6,2919.7 L845.2,2898.7 L953.0,2919.7 L943.0,2959.1 L804.4,2980.1 L696.6,2959.1ZM953.0,2919.7 L1091.6,2898.7 L1199.4,2919.7 L1189.4,2959.1 L1050.8,2980.1 L943.0,2959.1ZM65.2,2980.1 L203.8,2959.1 L311.6,2980.1 L301.6,3019.5 L163.0,3040.5 L55.2,3019.5ZM311.6,2980.1 L450.2,2959.1 L558.0,2980.1 L548.0,3019.5 L409.4,3040.5 L301.6,3019.5ZM558.0,2980.1 L696.6,2959.1 L804.4,2980.1 L794.4,3019.5 L655.8,3040.5 L548.0,3019.5ZM804.4,2980.1 L943.0,2959.1 L1050.8,2980.1 L1040.8,3019.5 L902.2,3040.5 L794.4,3019.5ZM1050.8,2980.1 L1189.4,2959.1 L1297.2,2980.1 L1287.2,3019.5 L1148.6,3040.5 L1040.8,3019.5Z" fill="none" stroke="#828282" stroke-width="2.4" stroke-linejoin="round"/><path d="M166.8,2738.5L156.8,2777.9M413.2,2738.5L403.2,2777.9M413.2,2738.5L403.2,2777.9M659.6,2738.5L649.6,2777.9M659.6,2738.5L649.6,2777.9M906.0,2738.5L896.0,2777.9M906.0,2738.5L896.0,2777.9M1152.4,2738.5L1142.4,2777.9M1152.4,2738.5L1142.4,2777.9M1398.8,2738.5L1388.8,2777.9M264.6,2798.9L254.6,2838.3M511.0,2798.9L501.0,2838.3M511.0,2798.9L501.0,2838.3M757.4,2798.9L747.4,2838.3M757.4,2798.9L747.4,2838.3M1003.8,2798.9L993.8,2838.3M1003.8,2798.9L993.8,2838.3M1250.2,2798.9L1240.2,2838.3M116.0,2859.3L106.0,2898.7M362.4,2859.3L352.4,2898.7M362.4,2859.3L352.4,2898.7M608.8,2859.3L598.8,2898.7M608.8,2859.3L598.8,2898.7M855.2,2859.3L845.2,2898.7M855.2,2859.3L845.2,2898.7M1101.6,2859.3L1091.6,2898.7M1101.6,2859.3L1091.6,2898.7M1348.0,2859.3L1338.0,2898.7M213.8,2919.7L203.8,2959.1M460.2,2919.7L450.2,2959.1M460.2,2919.7L450.2,2959.1M706.6,2919.7L696.6,2959.1M706.6,2919.7L696.6,2959.1M953.0,2919.7L943.0,2959.1M953.0,2919.7L943.0,2959.1M1199.4,2919.7L1189.4,2959.1M65.2,2980.1L55.2,3019.5M311.6,2980.1L301.6,3019.5M311.6,2980.1L301.6,3019.5M558.0,2980.1L548.0,3019.5M558.0,2980.1L548.0,3019.5M804.4,2980.1L794.4,3019.5M804.4,2980.1L794.4,3019.5M1050.8,2980.1L1040.8,3019.5M1050.8,2980.1L1040.8,3019.5M1297.2,2980.1L1287.2,3019.5" fill="none" stroke="#707070" stroke-width="3.8"/></g>
<polygon points="166.2,2649.0 1425.7,2649.0 1283.5,2990.0 24.0,2990.0" fill="#9cd2dc" fill-opacity="0.375"/>
<polygon points="166.2,2596.5 1425.7,2596.5 1283.5,2937.5 24.0,2937.5" fill="#d6d6d6" fill-opacity="0.49"/>
<g clip-path="url(#cl1)" opacity="0.45"><path d="M166.8,2738.5 L305.4,2717.5 L413.2,2738.5 L403.2,2777.9 L264.6,2798.9 L156.8,2777.9ZM413.2,2738.5 L551.8,2717.5 L659.6,2738.5 L649.6,2777.9 L511.0,2798.9 L403.2,2777.9ZM659.6,2738.5 L798.2,2717.5 L906.0,2738.5 L896.0,2777.9 L757.4,2798.9 L649.6,2777.9ZM906.0,2738.5 L1044.6,2717.5 L1152.4,2738.5 L1142.4,2777.9 L1003.8,2798.9 L896.0,2777.9ZM1152.4,2738.5 L1291.0,2717.5 L1398.8,2738.5 L1388.8,2777.9 L1250.2,2798.9 L1142.4,2777.9ZM264.6,2798.9 L403.2,2777.9 L511.0,2798.9 L501.0,2838.3 L362.4,2859.3 L254.6,2838.3ZM511.0,2798.9 L649.6,2777.9 L757.4,2798.9 L747.4,2838.3 L608.8,2859.3 L501.0,2838.3ZM757.4,2798.9 L896.0,2777.9 L1003.8,2798.9 L993.8,2838.3 L855.2,2859.3 L747.4,2838.3ZM1003.8,2798.9 L1142.4,2777.9 L1250.2,2798.9 L1240.2,2838.3 L1101.6,2859.3 L993.8,2838.3ZM116.0,2859.3 L254.6,2838.3 L362.4,2859.3 L352.4,2898.7 L213.8,2919.7 L106.0,2898.7ZM362.4,2859.3 L501.0,2838.3 L608.8,2859.3 L598.8,2898.7 L460.2,2919.7 L352.4,2898.7ZM608.8,2859.3 L747.4,2838.3 L855.2,2859.3 L845.2,2898.7 L706.6,2919.7 L598.8,2898.7ZM855.2,2859.3 L993.8,2838.3 L1101.6,2859.3 L1091.6,2898.7 L953.0,2919.7 L845.2,2898.7ZM1101.6,2859.3 L1240.2,2838.3 L1348.0,2859.3 L1338.0,2898.7 L1199.4,2919.7 L1091.6,2898.7ZM213.8,2919.7 L352.4,2898.7 L460.2,2919.7 L450.2,2959.1 L311.6,2980.1 L203.8,2959.1ZM460.2,2919.7 L598.8,2898.7 L706.6,2919.7 L696.6,2959.1 L558.0,2980.1 L450.2,2959.1ZM706.6,2919.7 L845.2,2898.7 L953.0,2919.7 L943.0,2959.1 L804.4,2980.1 L696.6,2959.1ZM953.0,2919.7 L1091.6,2898.7 L1199.4,2919.7 L1189.4,2959.1 L1050.8,2980.1 L943.0,2959.1ZM65.2,2980.1 L203.8,2959.1 L311.6,2980.1 L301.6,3019.5 L163.0,3040.5 L55.2,3019.5ZM311.6,2980.1 L450.2,2959.1 L558.0,2980.1 L548.0,3019.5 L409.4,3040.5 L301.6,3019.5ZM558.0,2980.1 L696.6,2959.1 L804.4,2980.1 L794.4,3019.5 L655.8,3040.5 L548.0,3019.5ZM804.4,2980.1 L943.0,2959.1 L1050.8,2980.1 L1040.8,3019.5 L902.2,3040.5 L794.4,3019.5ZM1050.8,2980.1 L1189.4,2959.1 L1297.2,2980.1 L1287.2,3019.5 L1148.6,3040.5 L1040.8,3019.5Z" fill="none" stroke="#6a7a80" stroke-width="2.4" stroke-linejoin="round"/><path d="M166.8,2738.5L156.8,2777.9M413.2,2738.5L403.2,2777.9M413.2,2738.5L403.2,2777.9M659.6,2738.5L649.6,2777.9M659.6,2738.5L649.6,2777.9M906.0,2738.5L896.0,2777.9M906.0,2738.5L896.0,2777.9M1152.4,2738.5L1142.4,2777.9M1152.4,2738.5L1142.4,2777.9M1398.8,2738.5L1388.8,2777.9M264.6,2798.9L254.6,2838.3M511.0,2798.9L501.0,2838.3M511.0,2798.9L501.0,2838.3M757.4,2798.9L747.4,2838.3M757.4,2798.9L747.4,2838.3M1003.8,2798.9L993.8,2838.3M1003.8,2798.9L993.8,2838.3M1250.2,2798.9L1240.2,2838.3M116.0,2859.3L106.0,2898.7M362.4,2859.3L352.4,2898.7M362.4,2859.3L352.4,2898.7M608.8,2859.3L598.8,2898.7M608.8,2859.3L598.8,2898.7M855.2,2859.3L845.2,2898.7M855.2,2859.3L845.2,2898.7M1101.6,2859.3L1091.6,2898.7M1101.6,2859.3L1091.6,2898.7M1348.0,2859.3L1338.0,2898.7M213.8,2919.7L203.8,2959.1M460.2,2919.7L450.2,2959.1M460.2,2919.7L450.2,2959.1M706.6,2919.7L696.6,2959.1M706.6,2919.7L696.6,2959.1M953.0,2919.7L943.0,2959.1M953.0,2919.7L943.0,2959.1M1199.4,2919.7L1189.4,2959.1M65.2,2980.1L55.2,3019.5M311.6,2980.1L301.6,3019.5M311.6,2980.1L301.6,3019.5M558.0,2980.1L548.0,3019.5M558.0,2980.1L548.0,3019.5M804.4,2980.1L794.4,3019.5M804.4,2980.1L794.4,3019.5M1050.8,2980.1L1040.8,3019.5M1050.8,2980.1L1040.8,3019.5M1297.2,2980.1L1287.2,3019.5" fill="none" stroke="#5a6a70" stroke-width="3.8"/></g>
<polygon points="166.2,2540.0 1425.7,2540.0 1283.5,2881.0 24.0,2881.0" fill="#9cd2dc" fill-opacity="0.375"/>
<g clip-path="url(#cl1)"><path d="M171.5,2627.6 L310.1,2606.6 L417.9,2627.6 L407.9,2667.0 L269.3,2688.0 L161.5,2667.0ZM417.9,2627.6 L556.5,2606.6 L664.3,2627.6 L654.3,2667.0 L515.7,2688.0 L407.9,2667.0ZM664.3,2627.6 L802.9,2606.6 L910.7,2627.6 L900.7,2667.0 L762.1,2688.0 L654.3,2667.0ZM910.7,2627.6 L1049.3,2606.6 L1157.1,2627.6 L1147.1,2667.0 L1008.5,2688.0 L900.7,2667.0ZM1157.1,2627.6 L1295.7,2606.6 L1403.5,2627.6 L1393.5,2667.0 L1254.9,2688.0 L1147.1,2667.0ZM269.3,2688.0 L407.9,2667.0 L515.7,2688.0 L505.7,2727.4 L367.1,2748.4 L259.3,2727.4ZM515.7,2688.0 L654.3,2667.0 L762.1,2688.0 L752.1,2727.4 L613.5,2748.4 L505.7,2727.4ZM762.1,2688.0 L900.7,2667.0 L1008.5,2688.0 L998.5,2727.4 L859.9,2748.4 L752.1,2727.4ZM1008.5,2688.0 L1147.1,2667.0 L1254.9,2688.0 L1244.9,2727.4 L1106.3,2748.4 L998.5,2727.4ZM120.7,2748.4 L259.3,2727.4 L367.1,2748.4 L357.1,2787.8 L218.5,2808.8 L110.7,2787.8ZM367.1,2748.4 L505.7,2727.4 L613.5,2748.4 L603.5,2787.8 L464.9,2808.8 L357.1,2787.8ZM613.5,2748.4 L752.1,2727.4 L859.9,2748.4 L849.9,2787.8 L711.3,2808.8 L603.5,2787.8ZM859.9,2748.4 L998.5,2727.4 L1106.3,2748.4 L1096.3,2787.8 L957.7,2808.8 L849.9,2787.8ZM1106.3,2748.4 L1244.9,2727.4 L1352.7,2748.4 L1342.7,2787.8 L1204.1,2808.8 L1096.3,2787.8ZM218.5,2808.8 L357.1,2787.8 L464.9,2808.8 L454.9,2848.2 L316.3,2869.2 L208.5,2848.2ZM464.9,2808.8 L603.5,2787.8 L711.3,2808.8 L701.3,2848.2 L562.7,2869.2 L454.9,2848.2ZM711.3,2808.8 L849.9,2787.8 L957.7,2808.8 L947.7,2848.2 L809.1,2869.2 L701.3,2848.2ZM957.7,2808.8 L1096.3,2787.8 L1204.1,2808.8 L1194.1,2848.2 L1055.5,2869.2 L947.7,2848.2ZM69.9,2869.2 L208.5,2848.2 L316.3,2869.2 L306.3,2908.6 L167.7,2929.6 L59.9,2908.6ZM316.3,2869.2 L454.9,2848.2 L562.7,2869.2 L552.7,2908.6 L414.1,2929.6 L306.3,2908.6ZM562.7,2869.2 L701.3,2848.2 L809.1,2869.2 L799.1,2908.6 L660.5,2929.6 L552.7,2908.6ZM809.1,2869.2 L947.7,2848.2 L1055.5,2869.2 L1045.5,2908.6 L906.9,2929.6 L799.1,2908.6ZM1055.5,2869.2 L1194.1,2848.2 L1301.9,2869.2 L1291.9,2908.6 L1153.3,2929.6 L1045.5,2908.6Z" fill="none" stroke="#7f9094" stroke-width="2.6" stroke-linejoin="round"/><path d="M171.5,2627.6L161.5,2667.0M417.9,2627.6L407.9,2667.0M417.9,2627.6L407.9,2667.0M664.3,2627.6L654.3,2667.0M664.3,2627.6L654.3,2667.0M910.7,2627.6L900.7,2667.0M910.7,2627.6L900.7,2667.0M1157.1,2627.6L1147.1,2667.0M1157.1,2627.6L1147.1,2667.0M1403.5,2627.6L1393.5,2667.0M269.3,2688.0L259.3,2727.4M515.7,2688.0L505.7,2727.4M515.7,2688.0L505.7,2727.4M762.1,2688.0L752.1,2727.4M762.1,2688.0L752.1,2727.4M1008.5,2688.0L998.5,2727.4M1008.5,2688.0L998.5,2727.4M1254.9,2688.0L1244.9,2727.4M120.7,2748.4L110.7,2787.8M367.1,2748.4L357.1,2787.8M367.1,2748.4L357.1,2787.8M613.5,2748.4L603.5,2787.8M613.5,2748.4L603.5,2787.8M859.9,2748.4L849.9,2787.8M859.9,2748.4L849.9,2787.8M1106.3,2748.4L1096.3,2787.8M1106.3,2748.4L1096.3,2787.8M1352.7,2748.4L1342.7,2787.8M218.5,2808.8L208.5,2848.2M464.9,2808.8L454.9,2848.2M464.9,2808.8L454.9,2848.2M711.3,2808.8L701.3,2848.2M711.3,2808.8L701.3,2848.2M957.7,2808.8L947.7,2848.2M957.7,2808.8L947.7,2848.2M1204.1,2808.8L1194.1,2848.2M69.9,2869.2L59.9,2908.6M316.3,2869.2L306.3,2908.6M316.3,2869.2L306.3,2908.6M562.7,2869.2L552.7,2908.6M562.7,2869.2L552.7,2908.6M809.1,2869.2L799.1,2908.6M809.1,2869.2L799.1,2908.6M1055.5,2869.2L1045.5,2908.6M1055.5,2869.2L1045.5,2908.6M1301.9,2869.2L1291.9,2908.6" fill="none" stroke="#72858a" stroke-width="4.2"/></g>
<polygon points="166.2,2540.0 1425.7,2540.0 1283.5,2881.0 24.0,2881.0" fill="none" stroke="#ef7272" stroke-width="4.2"/>
<text x="206" y="2588.5" font-family="'Liberation Sans', sans-serif" font-weight="bold" font-size="31.5" fill="#e01010">S-defects</text>
<g font-family="'Liberation Sans', sans-serif" font-weight="bold" fill="#e01010"><text x="181" y="2625.5" font-size="31.5">(S<tspan font-size="21" dy="7">2</tspan></text><text x="225" y="2614" font-size="21">2&#8722;</text><text x="254" y="2625.5" font-size="31.5" textLength="42" lengthAdjust="spacingAndGlyphs">and</text><text x="318" y="2625.5" font-size="31.5">S</text><text x="339.5" y="2614" font-size="20">4+</text><text x="361" y="2625.5" font-size="31.5">)</text></g>
<g stroke="#000" stroke-width="3.6" fill="none"><path d="M754.3,2714 V2598"/><path d="M754.3,2714 L658,2727.6"/><path d="M754.3,2714 L849,2733.5"/></g>
<g fill="#000"><path d="M754.3,2581.7 L747,2600 L761.6,2600 Z"/><path d="M643.4,2729.6 L661,2720.5 L662.5,2735 Z"/><path d="M864,2735.5 L845,2742 L848,2726 Z"/></g>
<g font-family="'Liberation Sans', sans-serif" font-weight="bold" font-style="italic" font-size="45"><text x="718" y="2658">c</text><text x="805" y="2715">b</text><text x="695" y="2753">a</text></g>
<path d="M170.6,2902 V2970" stroke="#000" stroke-width="8"/><path d="M170.6,2883.8 L182.6,2906 L158.6,2906 Z M170.6,2988.3 L182.6,2966 L158.6,2966 Z" fill="#000"/>
<text x="185.5" y="2943.2" font-family="'Liberation Sans', sans-serif" font-weight="bold" font-size="41.5">~1.05nm</text>
<polygon points="614.9,3139.5 804,3139.5 783.9,3191.3 594.8,3191.3" fill="#d6ecf1"/>
<path d="M598.8,3234.8 L620.0,3231.6 L636.5,3234.8 L635.0,3240.8 L613.8,3244.0 L597.3,3240.8ZM636.5,3234.8 L657.7,3231.6 L674.2,3234.8 L672.7,3240.8 L651.5,3244.0 L635.0,3240.8ZM674.2,3234.8 L695.4,3231.6 L711.9,3234.8 L710.4,3240.8 L689.2,3244.0 L672.7,3240.8ZM711.9,3234.8 L733.1,3231.6 L749.6,3234.8 L748.1,3240.8 L726.9,3244.0 L710.4,3240.8ZM749.6,3234.8 L770.8,3231.6 L787.3,3234.8 L785.8,3240.8 L764.6,3244.0 L748.1,3240.8ZM613.8,3244.0 L635.0,3240.8 L651.5,3244.0 L650.0,3250.0 L628.8,3253.2 L612.3,3250.0ZM651.5,3244.0 L672.7,3240.8 L689.2,3244.0 L687.7,3250.0 L666.5,3253.2 L650.0,3250.0ZM689.2,3244.0 L710.4,3240.8 L726.9,3244.0 L725.4,3250.0 L704.2,3253.2 L687.7,3250.0ZM726.9,3244.0 L748.1,3240.8 L764.6,3244.0 L763.1,3250.0 L741.9,3253.2 L725.4,3250.0ZM591.1,3253.2 L612.3,3250.0 L628.8,3253.2 L627.3,3259.2 L606.1,3262.4 L589.6,3259.2ZM628.8,3253.2 L650.0,3250.0 L666.5,3253.2 L665.0,3259.2 L643.8,3262.4 L627.3,3259.2ZM666.5,3253.2 L687.7,3250.0 L704.2,3253.2 L702.7,3259.2 L681.5,3262.4 L665.0,3259.2ZM704.2,3253.2 L725.4,3250.0 L741.9,3253.2 L740.4,3259.2 L719.2,3262.4 L702.7,3259.2ZM741.9,3253.2 L763.1,3250.0 L779.6,3253.2 L778.1,3259.2 L756.9,3262.4 L740.4,3259.2ZM606.1,3262.4 L627.3,3259.2 L643.8,3262.4 L642.3,3268.4 L621.1,3271.6 L604.6,3268.4ZM643.8,3262.4 L665.0,3259.2 L681.5,3262.4 L680.0,3268.4 L658.8,3271.6 L642.3,3268.4ZM681.5,3262.4 L702.7,3259.2 L719.2,3262.4 L717.7,3268.4 L696.5,3271.6 L680.0,3268.4ZM719.2,3262.4 L740.4,3259.2 L756.9,3262.4 L755.4,3268.4 L734.2,3271.6 L717.7,3268.4ZM583.4,3271.6 L604.6,3268.4 L621.1,3271.6 L619.6,3277.6 L598.4,3280.8 L581.9,3277.6ZM621.1,3271.6 L642.3,3268.4 L658.8,3271.6 L657.3,3277.6 L636.1,3280.8 L619.6,3277.6ZM658.8,3271.6 L680.0,3268.4 L696.5,3271.6 L695.0,3277.6 L673.8,3280.8 L657.3,3277.6ZM696.5,3271.6 L717.7,3268.4 L734.2,3271.6 L732.7,3277.6 L711.5,3280.8 L695.0,3277.6ZM734.2,3271.6 L755.4,3268.4 L771.9,3271.6 L770.4,3277.6 L749.2,3280.8 L732.7,3277.6Z" fill="#ececec" stroke="#7e7e7e" stroke-width="2.4" stroke-linejoin="round"/>
<path d="M598.8,3234.8L597.3,3240.8M636.5,3234.8L635.0,3240.8M636.5,3234.8L635.0,3240.8M674.2,3234.8L672.7,3240.8M674.2,3234.8L672.7,3240.8M711.9,3234.8L710.4,3240.8M711.9,3234.8L710.4,3240.8M749.6,3234.8L748.1,3240.8M749.6,3234.8L748.1,3240.8M787.3,3234.8L785.8,3240.8M613.8,3244.0L612.3,3250.0M651.5,3244.0L650.0,3250.0M651.5,3244.0L650.0,3250.0M689.2,3244.0L687.7,3250.0M689.2,3244.0L687.7,3250.0M726.9,3244.0L725.4,3250.0M726.9,3244.0L725.4,3250.0M764.6,3244.0L763.1,3250.0M591.1,3253.2L589.6,3259.2M628.8,3253.2L627.3,3259.2M628.8,3253.2L627.3,3259.2M666.5,3253.2L665.0,3259.2M666.5,3253.2L665.0,3259.2M704.2,3253.2L702.7,3259.2M704.2,3253.2L702.7,3259.2M741.9,3253.2L740.4,3259.2M741.9,3253.2L740.4,3259.2M779.6,3253.2L778.1,3259.2M606.1,3262.4L604.6,3268.4M643.8,3262.4L642.3,3268.4M643.8,3262.4L642.3,3268.4M681.5,3262.4L680.0,3268.4M681.5,3262.4L680.0,3268.4M719.2,3262.4L717.7,3268.4M719.2,3262.4L717.7,3268.4M756.9,3262.4L755.4,3268.4M583.4,3271.6L581.9,3277.6M621.1,3271.6L619.6,3277.6M621.1,3271.6L619.6,3277.6M658.8,3271.6L657.3,3277.6M658.8,3271.6L657.3,3277.6M696.5,3271.6L695.0,3277.6M696.5,3271.6L695.0,3277.6M734.2,3271.6L732.7,3277.6M734.2,3271.6L732.7,3277.6M771.9,3271.6L770.4,3277.6" fill="none" stroke="#707070" stroke-width="3.6"/>
<text x="821" y="3191.5" font-family="'Liberation Sans', sans-serif" font-size="71">MoS<tspan font-size="48" dy="14.5">2</tspan><tspan dy="-14.5"> monolayer</tspan></text>
<text x="821" y="3277" font-family="'Liberation Sans', sans-serif" font-size="71">Carbon layer</text></g></svg>
</body></html>
